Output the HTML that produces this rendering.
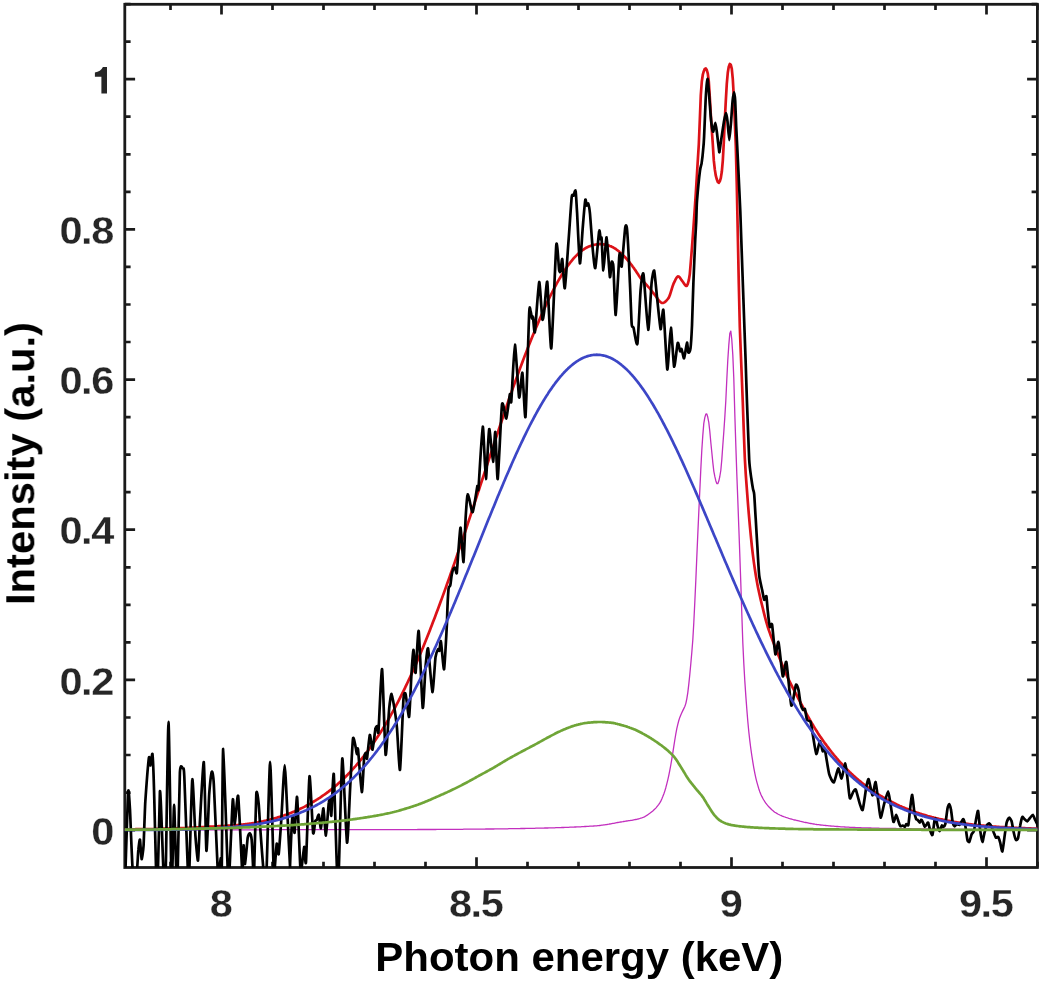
<!DOCTYPE html>
<html><head><meta charset="utf-8"><title>Spectrum</title>
<style>html,body{margin:0;padding:0;background:#fff;}body{width:1042px;height:982px;overflow:hidden;font-family:"Liberation Sans",sans-serif;}svg{display:block;}</style>
</head><body>
<svg width="1042" height="982" viewBox="0 0 1042 982">
<defs><filter id="b" x="0" y="0" width="1042" height="982" filterUnits="userSpaceOnUse" color-interpolation-filters="sRGB"><feGaussianBlur stdDeviation="0.5"/></filter><clipPath id="c"><rect x="124.8" y="4.3" width="912.6" height="863.2"/></clipPath></defs>
<g filter="url(#b)">
<rect width="1042" height="982" fill="#fff"/>
<path d="M170.5 867.5 V861.7 M170.5 4.3 V10.1 M221.5 867.5 V857.2 M221.5 4.3 V14.6 M272.5 867.5 V861.7 M272.5 4.3 V10.1 M323.5 867.5 V861.7 M323.5 4.3 V10.1 M374.5 867.5 V861.7 M374.5 4.3 V10.1 M425.5 867.5 V861.7 M425.5 4.3 V10.1 M476.5 867.5 V857.2 M476.5 4.3 V14.6 M527.5 867.5 V861.7 M527.5 4.3 V10.1 M578.5 867.5 V861.7 M578.5 4.3 V10.1 M629.5 867.5 V861.7 M629.5 4.3 V10.1 M680.5 867.5 V861.7 M680.5 4.3 V10.1 M731.5 867.5 V857.2 M731.5 4.3 V14.6 M782.5 867.5 V861.7 M782.5 4.3 V10.1 M833.5 867.5 V861.7 M833.5 4.3 V10.1 M884.5 867.5 V861.7 M884.5 4.3 V10.1 M935.5 867.5 V861.7 M935.5 4.3 V10.1 M986.5 867.5 V857.2 M986.5 4.3 V14.6 M1037.5 867.5 V861.7 M1037.5 4.3 V10.1 M124.8 830.1 H135.1 M1037.4 830.1 H1027.1 M124.8 792.6 H130.6 M1037.4 792.6 H1031.6 M124.8 755.0 H130.6 M1037.4 755.0 H1031.6 M124.8 717.5 H130.6 M1037.4 717.5 H1031.6 M124.8 679.9 H135.1 M1037.4 679.9 H1027.1 M124.8 642.4 H130.6 M1037.4 642.4 H1031.6 M124.8 604.8 H130.6 M1037.4 604.8 H1031.6 M124.8 567.3 H130.6 M1037.4 567.3 H1031.6 M124.8 529.7 H135.1 M1037.4 529.7 H1027.1 M124.8 492.2 H130.6 M1037.4 492.2 H1031.6 M124.8 454.7 H130.6 M1037.4 454.7 H1031.6 M124.8 417.1 H130.6 M1037.4 417.1 H1031.6 M124.8 379.6 H135.1 M1037.4 379.6 H1027.1 M124.8 342.0 H130.6 M1037.4 342.0 H1031.6 M124.8 304.5 H130.6 M1037.4 304.5 H1031.6 M124.8 266.9 H130.6 M1037.4 266.9 H1031.6 M124.8 229.4 H135.1 M1037.4 229.4 H1027.1 M124.8 191.8 H130.6 M1037.4 191.8 H1031.6 M124.8 154.3 H130.6 M1037.4 154.3 H1031.6 M124.8 116.7 H130.6 M1037.4 116.7 H1031.6 M124.8 79.2 H135.1 M1037.4 79.2 H1027.1 M124.8 41.7 H130.6 M1037.4 41.7 H1031.6 M124.8 4.1 H130.6 M1037.4 4.1 H1031.6" stroke="#1a1a1a" stroke-width="2.7" fill="none"/>
<rect x="124.8" y="4.3" width="912.6" height="863.2" fill="none" stroke="#1a1a1a" stroke-width="2.8"/>
<g clip-path="url(#c)" fill="none" stroke-linejoin="round" stroke-linecap="round">
<path d="M124.8 829.8 L125.8 829.8 L126.8 829.8 L127.8 829.8 L128.8 829.8 L129.8 829.8 L130.8 829.8 L131.8 829.8 L132.8 829.8 L133.8 829.8 L134.8 829.8 L135.8 829.8 L136.8 829.8 L137.8 829.8 L138.8 829.8 L139.8 829.8 L140.8 829.8 L141.8 829.8 L142.8 829.8 L143.8 829.8 L144.8 829.8 L145.8 829.8 L146.8 829.8 L147.8 829.8 L148.8 829.8 L149.8 829.8 L150.8 829.8 L151.8 829.8 L152.8 829.8 L153.8 829.8 L154.8 829.8 L155.8 829.8 L156.8 829.8 L157.8 829.8 L158.8 829.8 L159.8 829.8 L160.8 829.8 L161.8 829.8 L162.8 829.8 L163.8 829.8 L164.8 829.8 L165.8 829.8 L166.8 829.8 L167.8 829.8 L168.8 829.8 L169.8 829.8 L170.8 829.8 L171.8 829.8 L172.8 829.8 L173.8 829.8 L174.8 829.8 L175.8 829.8 L176.8 829.8 L177.8 829.8 L178.8 829.8 L179.8 829.8 L180.8 829.8 L181.8 829.8 L182.8 829.8 L183.8 829.8 L184.8 829.8 L185.8 829.8 L186.8 829.8 L187.8 829.8 L188.8 829.8 L189.8 829.8 L190.8 829.8 L191.8 829.8 L192.8 829.8 L193.8 829.8 L194.8 829.8 L195.8 829.8 L196.8 829.8 L197.8 829.8 L198.8 829.8 L199.8 829.8 L200.8 829.8 L201.8 829.8 L202.8 829.8 L203.8 829.8 L204.8 829.8 L205.8 829.8 L206.8 829.8 L207.8 829.8 L208.8 829.8 L209.8 829.8 L210.8 829.8 L211.8 829.8 L212.8 829.8 L213.8 829.8 L214.8 829.8 L215.8 829.8 L216.8 829.8 L217.8 829.8 L218.8 829.8 L219.8 829.8 L220.8 829.8 L221.8 829.8 L222.8 829.8 L223.8 829.8 L224.8 829.8 L225.8 829.8 L226.8 829.8 L227.8 829.8 L228.8 829.8 L229.8 829.8 L230.8 829.8 L231.8 829.8 L232.8 829.8 L233.8 829.8 L234.8 829.8 L235.8 829.8 L236.8 829.8 L237.8 829.8 L238.8 829.8 L239.8 829.8 L240.8 829.8 L241.8 829.8 L242.8 829.8 L243.8 829.8 L244.8 829.8 L245.8 829.8 L246.8 829.8 L247.8 829.8 L248.8 829.8 L249.8 829.8 L250.8 829.8 L251.8 829.8 L252.8 829.8 L253.8 829.8 L254.8 829.8 L255.8 829.8 L256.8 829.8 L257.8 829.8 L258.8 829.8 L259.8 829.8 L260.8 829.8 L261.8 829.8 L262.8 829.8 L263.8 829.8 L264.8 829.8 L265.8 829.8 L266.8 829.7 L267.8 829.7 L268.8 829.7 L269.8 829.7 L270.8 829.7 L271.8 829.7 L272.8 829.7 L273.8 829.7 L274.8 829.7 L275.8 829.7 L276.8 829.7 L277.8 829.7 L278.8 829.7 L279.8 829.7 L280.8 829.7 L281.8 829.7 L282.8 829.7 L283.8 829.7 L284.8 829.7 L285.8 829.7 L286.8 829.7 L287.8 829.7 L288.8 829.7 L289.8 829.7 L290.8 829.7 L291.8 829.7 L292.8 829.7 L293.8 829.7 L294.8 829.7 L295.8 829.7 L296.8 829.7 L297.8 829.7 L298.8 829.7 L299.8 829.7 L300.8 829.7 L301.8 829.7 L302.8 829.7 L303.8 829.7 L304.8 829.7 L305.8 829.7 L306.8 829.7 L307.8 829.7 L308.8 829.7 L309.8 829.7 L310.8 829.7 L311.8 829.7 L312.8 829.7 L313.8 829.7 L314.8 829.7 L315.8 829.7 L316.8 829.7 L317.8 829.7 L318.8 829.7 L319.8 829.7 L320.8 829.7 L321.8 829.7 L322.8 829.7 L323.8 829.7 L324.8 829.7 L325.8 829.7 L326.8 829.7 L327.8 829.7 L328.8 829.7 L329.8 829.7 L330.8 829.7 L331.8 829.7 L332.8 829.7 L333.8 829.7 L334.8 829.7 L335.8 829.7 L336.8 829.7 L337.8 829.7 L338.8 829.7 L339.8 829.7 L340.8 829.7 L341.8 829.7 L342.8 829.7 L343.8 829.7 L344.8 829.7 L345.8 829.7 L346.8 829.7 L347.8 829.7 L348.8 829.7 L349.8 829.7 L350.8 829.7 L351.8 829.7 L352.8 829.7 L353.8 829.7 L354.8 829.7 L355.8 829.7 L356.8 829.7 L357.8 829.7 L358.8 829.7 L359.8 829.7 L360.8 829.7 L361.8 829.7 L362.8 829.7 L363.8 829.7 L364.8 829.6 L365.8 829.6 L366.8 829.6 L367.8 829.6 L368.8 829.6 L369.8 829.6 L370.8 829.6 L371.8 829.6 L372.8 829.6 L373.8 829.6 L374.8 829.6 L375.8 829.6 L376.8 829.6 L377.8 829.6 L378.8 829.6 L379.8 829.6 L380.8 829.6 L381.8 829.6 L382.8 829.6 L383.8 829.6 L384.8 829.6 L385.8 829.6 L386.8 829.6 L387.8 829.6 L388.8 829.6 L389.8 829.6 L390.8 829.6 L391.8 829.6 L392.8 829.6 L393.8 829.6 L394.8 829.6 L395.8 829.6 L396.8 829.6 L397.8 829.6 L398.8 829.6 L399.8 829.6 L400.8 829.6 L401.8 829.6 L402.8 829.6 L403.8 829.6 L404.8 829.6 L405.8 829.6 L406.8 829.6 L407.8 829.6 L408.8 829.6 L409.8 829.6 L410.8 829.6 L411.8 829.6 L412.8 829.6 L413.8 829.6 L414.8 829.6 L415.8 829.6 L416.8 829.6 L417.8 829.5 L418.8 829.5 L419.8 829.5 L420.8 829.5 L421.8 829.5 L422.8 829.5 L423.8 829.5 L424.8 829.5 L425.8 829.5 L426.8 829.5 L427.8 829.5 L428.8 829.5 L429.8 829.5 L430.8 829.5 L431.8 829.5 L432.8 829.5 L433.8 829.5 L434.8 829.5 L435.8 829.5 L436.8 829.4 L437.8 829.4 L438.8 829.4 L439.8 829.4 L440.8 829.4 L441.8 829.4 L442.8 829.4 L443.8 829.4 L444.8 829.4 L445.8 829.4 L446.8 829.4 L447.8 829.4 L448.8 829.4 L449.8 829.4 L450.8 829.3 L451.8 829.3 L452.8 829.3 L453.8 829.3 L454.8 829.3 L455.8 829.3 L456.8 829.3 L457.8 829.3 L458.8 829.3 L459.8 829.3 L460.8 829.3 L461.8 829.3 L462.8 829.3 L463.8 829.2 L464.8 829.2 L465.8 829.2 L466.8 829.2 L467.8 829.2 L468.8 829.2 L469.8 829.2 L470.8 829.2 L471.8 829.2 L472.8 829.2 L473.8 829.2 L474.8 829.1 L475.8 829.1 L476.8 829.1 L477.8 829.1 L478.8 829.1 L479.8 829.1 L480.8 829.1 L481.8 829.1 L482.8 829.1 L483.8 829.1 L484.8 829.1 L485.8 829.0 L486.8 829.0 L487.8 829.0 L488.8 829.0 L489.8 829.0 L490.8 829.0 L491.8 829.0 L492.8 829.0 L493.8 829.0 L494.8 828.9 L495.8 828.9 L496.8 828.9 L497.8 828.9 L498.8 828.9 L499.8 828.9 L500.8 828.9 L501.8 828.8 L502.8 828.8 L503.8 828.8 L504.8 828.8 L505.8 828.8 L506.8 828.8 L507.8 828.8 L508.8 828.7 L509.8 828.7 L510.8 828.7 L511.8 828.7 L512.8 828.7 L513.8 828.7 L514.8 828.6 L515.8 828.6 L516.8 828.6 L517.8 828.6 L518.8 828.6 L519.8 828.6 L520.8 828.5 L521.8 828.5 L522.8 828.5 L523.8 828.5 L524.8 828.5 L525.8 828.4 L526.8 828.4 L527.8 828.4 L528.8 828.4 L529.8 828.4 L530.8 828.3 L531.8 828.3 L532.8 828.3 L533.8 828.3 L534.8 828.3 L535.8 828.2 L536.8 828.2 L537.8 828.2 L538.8 828.2 L539.8 828.1 L540.8 828.1 L541.8 828.1 L542.8 828.1 L543.8 828.1 L544.8 828.0 L545.8 828.0 L546.8 828.0 L547.8 828.0 L548.8 827.9 L549.8 827.9 L550.8 827.9 L551.8 827.8 L552.8 827.8 L553.8 827.8 L554.8 827.8 L555.8 827.7 L556.8 827.7 L557.8 827.7 L558.8 827.6 L559.8 827.6 L560.8 827.6 L561.8 827.5 L562.8 827.5 L563.8 827.5 L564.8 827.4 L565.8 827.4 L566.8 827.4 L567.8 827.3 L568.8 827.3 L569.8 827.2 L570.8 827.2 L571.8 827.2 L572.8 827.1 L573.8 827.1 L574.8 827.0 L575.8 827.0 L576.8 826.9 L577.8 826.9 L578.8 826.9 L579.8 826.8 L580.8 826.8 L581.8 826.7 L582.8 826.6 L583.8 826.6 L584.8 826.5 L585.8 826.5 L586.8 826.4 L587.8 826.4 L588.8 826.3 L589.8 826.2 L590.8 826.2 L591.8 826.1 L592.8 826.1 L593.8 826.0 L594.8 825.9 L595.8 825.9 L596.8 825.8 L597.8 825.7 L598.8 825.6 L599.8 825.5 L600.8 825.4 L601.8 825.2 L602.8 825.1 L603.8 824.9 L604.8 824.8 L605.8 824.6 L606.8 824.5 L607.8 824.3 L608.8 824.2 L609.8 824.0 L610.8 823.8 L611.8 823.6 L612.8 823.4 L613.8 823.3 L614.8 823.1 L615.8 822.9 L616.8 822.7 L617.8 822.5 L618.8 822.4 L619.8 822.2 L620.8 822.0 L621.8 821.8 L622.8 821.7 L623.8 821.5 L624.8 821.4 L625.8 821.2 L626.8 821.0 L627.8 820.9 L628.8 820.7 L629.8 820.6 L630.8 820.4 L631.8 820.3 L632.8 820.1 L633.8 819.9 L634.8 819.7 L635.8 819.5 L636.8 819.3 L637.8 819.0 L638.8 818.8 L639.8 818.5 L640.8 818.2 L641.8 817.9 L642.8 817.5 L643.8 817.1 L644.8 816.6 L645.8 816.0 L646.8 815.4 L647.8 814.7 L648.8 814.0 L649.8 813.3 L650.8 812.5 L651.8 811.7 L652.8 810.9 L653.8 810.0 L654.8 809.1 L655.8 808.1 L656.8 806.9 L657.8 805.7 L658.8 804.3 L659.8 802.8 L660.8 801.1 L661.8 799.0 L662.8 796.6 L663.8 794.0 L664.8 791.1 L665.8 787.7 L666.8 783.9 L667.8 779.8 L668.8 775.3 L669.8 770.4 L670.8 765.0 L671.8 759.1 L672.8 752.8 L673.8 746.3 L674.8 740.0 L675.8 734.0 L676.8 728.6 L677.8 724.3 L678.8 720.5 L679.8 717.4 L680.8 714.9 L681.8 712.7 L682.8 710.6 L683.8 708.6 L684.8 706.5 L685.8 703.6 L686.8 698.8 L687.8 692.6 L688.8 684.2 L689.8 674.5 L690.8 663.8 L691.8 652.5 L692.8 640.0 L693.8 622.8 L694.8 602.3 L695.8 580.7 L696.8 557.1 L697.8 534.1 L698.8 512.0 L699.8 490.8 L700.8 469.4 L701.8 450.2 L702.8 435.4 L703.8 423.4 L704.8 417.6 L705.8 414.2 L706.8 413.9 L707.8 417.3 L708.8 422.5 L709.8 431.2 L710.8 442.3 L711.8 452.3 L712.8 462.4 L713.8 471.1 L714.8 476.4 L715.8 480.7 L716.8 483.5 L717.8 483.7 L718.8 481.1 L719.8 476.5 L720.8 470.5 L721.8 459.6 L722.8 445.5 L723.8 432.0 L724.8 417.4 L725.8 401.0 L726.8 379.5 L727.8 360.0 L728.8 345.1 L729.8 333.5 L730.8 331.1 L731.8 339.7 L732.8 354.9 L733.8 378.5 L734.8 413.8 L735.8 444.7 L736.8 474.0 L737.8 500.0 L738.8 527.0 L739.8 554.7 L740.8 583.0 L741.8 613.6 L742.8 642.4 L743.8 663.4 L744.8 680.7 L745.8 695.6 L746.8 709.0 L747.8 721.2 L748.8 731.7 L749.8 740.6 L750.8 748.5 L751.8 755.5 L752.8 761.9 L753.8 767.8 L754.8 773.1 L755.8 777.8 L756.8 781.8 L757.8 785.4 L758.8 788.8 L759.8 791.7 L760.8 794.2 L761.8 796.4 L762.8 798.3 L763.8 800.0 L764.8 801.6 L765.8 803.1 L766.8 804.4 L767.8 805.6 L768.8 806.8 L769.8 807.8 L770.8 808.8 L771.8 809.8 L772.8 810.6 L773.8 811.4 L774.8 812.2 L775.8 812.8 L776.8 813.4 L777.8 814.0 L778.8 814.5 L779.8 815.0 L780.8 815.4 L781.8 815.9 L782.8 816.3 L783.8 816.7 L784.8 817.0 L785.8 817.4 L786.8 817.7 L787.8 818.0 L788.8 818.4 L789.8 818.7 L790.8 819.0 L791.8 819.2 L792.8 819.5 L793.8 819.8 L794.8 820.0 L795.8 820.2 L796.8 820.5 L797.8 820.7 L798.8 820.9 L799.8 821.2 L800.8 821.4 L801.8 821.6 L802.8 821.8 L803.8 822.1 L804.8 822.3 L805.8 822.5 L806.8 822.7 L807.8 822.9 L808.8 823.1 L809.8 823.3 L810.8 823.5 L811.8 823.7 L812.8 823.9 L813.8 824.0 L814.8 824.2 L815.8 824.3 L816.8 824.5 L817.8 824.6 L818.8 824.7 L819.8 824.9 L820.8 825.0 L821.8 825.1 L822.8 825.2 L823.8 825.3 L824.8 825.4 L825.8 825.5 L826.8 825.6 L827.8 825.7 L828.8 825.8 L829.8 825.9 L830.8 826.0 L831.8 826.1 L832.8 826.2 L833.8 826.2 L834.8 826.3 L835.8 826.4 L836.8 826.5 L837.8 826.5 L838.8 826.6 L839.8 826.7 L840.8 826.8 L841.8 826.8 L842.8 826.9 L843.8 826.9 L844.8 827.0 L845.8 827.1 L846.8 827.1 L847.8 827.2 L848.8 827.2 L849.8 827.3 L850.8 827.3 L851.8 827.4 L852.8 827.4 L853.8 827.5 L854.8 827.5 L855.8 827.6 L856.8 827.6 L857.8 827.6 L858.8 827.7 L859.8 827.7 L860.8 827.7 L861.8 827.8 L862.8 827.8 L863.8 827.8 L864.8 827.9 L865.8 827.9 L866.8 827.9 L867.8 827.9 L868.8 828.0 L869.8 828.0 L870.8 828.0 L871.8 828.1 L872.8 828.1 L873.8 828.1 L874.8 828.1 L875.8 828.2 L876.8 828.2 L877.8 828.2 L878.8 828.2 L879.8 828.3 L880.8 828.3 L881.8 828.3 L882.8 828.3 L883.8 828.3 L884.8 828.4 L885.8 828.4 L886.8 828.4 L887.8 828.4 L888.8 828.4 L889.8 828.4 L890.8 828.5 L891.8 828.5 L892.8 828.5 L893.8 828.5 L894.8 828.5 L895.8 828.5 L896.8 828.6 L897.8 828.6 L898.8 828.6 L899.8 828.6 L900.8 828.6 L901.8 828.6 L902.8 828.6 L903.8 828.7 L904.8 828.7 L905.8 828.7 L906.8 828.7 L907.8 828.7 L908.8 828.7 L909.8 828.7 L910.8 828.7 L911.8 828.8 L912.8 828.8 L913.8 828.8 L914.8 828.8 L915.8 828.8 L916.8 828.8 L917.8 828.8 L918.8 828.8 L919.8 828.9 L920.8 828.9 L921.8 828.9 L922.8 828.9 L923.8 828.9 L924.8 828.9 L925.8 828.9 L926.8 828.9 L927.8 828.9 L928.8 829.0 L929.8 829.0 L930.8 829.0 L931.8 829.0 L932.8 829.0 L933.8 829.0 L934.8 829.0 L935.8 829.0 L936.8 829.1 L937.8 829.1 L938.8 829.1 L939.8 829.1 L940.8 829.1 L941.8 829.1 L942.8 829.1 L943.8 829.1 L944.8 829.1 L945.8 829.2 L946.8 829.2 L947.8 829.2 L948.8 829.2 L949.8 829.2 L950.8 829.2 L951.8 829.2 L952.8 829.2 L953.8 829.2 L954.8 829.2 L955.8 829.3 L956.8 829.3 L957.8 829.3 L958.8 829.3 L959.8 829.3 L960.8 829.3 L961.8 829.3 L962.8 829.3 L963.8 829.3 L964.8 829.3 L965.8 829.3 L966.8 829.4 L967.8 829.4 L968.8 829.4 L969.8 829.4 L970.8 829.4 L971.8 829.4 L972.8 829.4 L973.8 829.4 L974.8 829.4 L975.8 829.4 L976.8 829.4 L977.8 829.4 L978.8 829.5 L979.8 829.5 L980.8 829.5 L981.8 829.5 L982.8 829.5 L983.8 829.5 L984.8 829.5 L985.8 829.5 L986.8 829.5 L987.8 829.5 L988.8 829.5 L989.8 829.5 L990.8 829.5 L991.8 829.5 L992.8 829.6 L993.8 829.6 L994.8 829.6 L995.8 829.6 L996.8 829.6 L997.8 829.6 L998.8 829.6 L999.8 829.6 L1000.8 829.6 L1001.8 829.6 L1002.8 829.6 L1003.8 829.6 L1004.8 829.6 L1005.8 829.6 L1006.8 829.6 L1007.8 829.6 L1008.8 829.6 L1009.8 829.6 L1010.8 829.6 L1011.8 829.6 L1012.8 829.7 L1013.8 829.7 L1014.8 829.7 L1015.8 829.7 L1016.8 829.7 L1017.8 829.7 L1018.8 829.7 L1019.8 829.7 L1020.8 829.7 L1021.8 829.7 L1022.8 829.7 L1023.8 829.7 L1024.8 829.7 L1025.8 829.7 L1026.8 829.7 L1027.8 829.7 L1028.8 829.7 L1029.8 829.7 L1030.8 829.7 L1031.8 829.7 L1032.8 829.7 L1033.8 829.7 L1034.8 829.7 L1035.8 829.7 L1036.8 829.7" stroke="#c22fbe" stroke-width="1.3"/>
<path d="M124.8 829.3 L125.8 829.3 L126.8 829.3 L127.8 829.3 L128.8 829.3 L129.8 829.3 L130.8 829.3 L131.8 829.3 L132.8 829.3 L133.8 829.3 L134.8 829.3 L135.8 829.2 L136.8 829.2 L137.8 829.2 L138.8 829.2 L139.8 829.2 L140.8 829.2 L141.8 829.2 L142.8 829.2 L143.8 829.1 L144.8 829.1 L145.8 829.1 L146.8 829.1 L147.8 829.1 L148.8 829.1 L149.8 829.0 L150.8 829.0 L151.8 829.0 L152.8 829.0 L153.8 829.0 L154.8 828.9 L155.8 828.9 L156.8 828.9 L157.8 828.9 L158.8 828.9 L159.8 828.8 L160.8 828.8 L161.8 828.8 L162.8 828.8 L163.8 828.7 L164.8 828.7 L165.8 828.7 L166.8 828.6 L167.8 828.6 L168.8 828.6 L169.8 828.5 L170.8 828.5 L171.8 828.5 L172.8 828.5 L173.8 828.4 L174.8 828.4 L175.8 828.3 L176.8 828.3 L177.8 828.3 L178.8 828.2 L179.8 828.2 L180.8 828.2 L181.8 828.1 L182.8 828.1 L183.8 828.0 L184.8 828.0 L185.8 827.9 L186.8 827.9 L187.8 827.9 L188.8 827.8 L189.8 827.8 L190.8 827.7 L191.8 827.7 L192.8 827.6 L193.8 827.6 L194.8 827.5 L195.8 827.5 L196.8 827.4 L197.8 827.3 L198.8 827.3 L199.8 827.2 L200.8 827.2 L201.8 827.1 L202.8 827.1 L203.8 827.0 L204.8 826.9 L205.8 826.9 L206.8 826.8 L207.8 826.8 L208.8 826.7 L209.8 826.7 L210.8 826.6 L211.8 826.6 L212.8 826.5 L213.8 826.5 L214.8 826.4 L215.8 826.4 L216.8 826.3 L217.8 826.3 L218.8 826.2 L219.8 826.2 L220.8 826.1 L221.8 826.1 L222.8 826.0 L223.8 826.0 L224.8 825.9 L225.8 825.9 L226.8 825.8 L227.8 825.7 L228.8 825.7 L229.8 825.6 L230.8 825.5 L231.8 825.5 L232.8 825.4 L233.8 825.3 L234.8 825.2 L235.8 825.1 L236.8 825.1 L237.8 825.0 L238.8 824.9 L239.8 824.8 L240.8 824.7 L241.8 824.6 L242.8 824.5 L243.8 824.4 L244.8 824.3 L245.8 824.1 L246.8 824.0 L247.8 823.9 L248.8 823.8 L249.8 823.6 L250.8 823.5 L251.8 823.3 L252.8 823.2 L253.8 823.0 L254.8 822.9 L255.8 822.7 L256.8 822.5 L257.8 822.3 L258.8 822.2 L259.8 822.0 L260.8 821.8 L261.8 821.6 L262.8 821.4 L263.8 821.1 L264.8 820.9 L265.8 820.7 L266.8 820.4 L267.8 820.2 L268.8 820.0 L269.8 819.7 L270.8 819.4 L271.8 819.2 L272.8 818.9 L273.8 818.6 L274.8 818.3 L275.8 818.0 L276.8 817.7 L277.8 817.4 L278.8 817.1 L279.8 816.8 L280.8 816.5 L281.8 816.2 L282.8 815.8 L283.8 815.5 L284.8 815.1 L285.8 814.8 L286.8 814.4 L287.8 814.1 L288.8 813.7 L289.8 813.3 L290.8 812.9 L291.8 812.5 L292.8 812.1 L293.8 811.7 L294.8 811.3 L295.8 810.8 L296.8 810.4 L297.8 809.9 L298.8 809.5 L299.8 809.0 L300.8 808.5 L301.8 808.1 L302.8 807.6 L303.8 807.1 L304.8 806.6 L305.8 806.0 L306.8 805.5 L307.8 805.0 L308.8 804.4 L309.8 803.9 L310.8 803.3 L311.8 802.7 L312.8 802.1 L313.8 801.5 L314.8 800.9 L315.8 800.3 L316.8 799.7 L317.8 799.1 L318.8 798.4 L319.8 797.8 L320.8 797.1 L321.8 796.4 L322.8 795.7 L323.8 795.0 L324.8 794.3 L325.8 793.6 L326.8 792.9 L327.8 792.1 L328.8 791.4 L329.8 790.6 L330.8 789.8 L331.8 789.0 L332.8 788.2 L333.8 787.4 L334.8 786.6 L335.8 785.7 L336.8 784.9 L337.8 784.0 L338.8 783.1 L339.8 782.2 L340.8 781.3 L341.8 780.4 L342.8 779.4 L343.8 778.5 L344.8 777.5 L345.8 776.5 L346.8 775.5 L347.8 774.5 L348.8 773.4 L349.8 772.4 L350.8 771.3 L351.8 770.3 L352.8 769.2 L353.8 768.0 L354.8 766.9 L355.8 765.8 L356.8 764.6 L357.8 763.4 L358.8 762.3 L359.8 761.1 L360.8 759.8 L361.8 758.6 L362.8 757.3 L363.8 756.1 L364.8 754.8 L365.8 753.5 L366.8 752.2 L367.8 750.9 L368.8 749.5 L369.8 748.1 L370.8 746.8 L371.8 745.4 L372.8 743.9 L373.8 742.5 L374.8 741.1 L375.8 739.6 L376.8 738.1 L377.8 736.6 L378.8 735.1 L379.8 733.5 L380.8 732.0 L381.8 730.4 L382.8 728.8 L383.8 727.1 L384.8 725.5 L385.8 723.8 L386.8 722.2 L387.8 720.5 L388.8 718.7 L389.8 717.0 L390.8 715.2 L391.8 713.4 L392.8 711.6 L393.8 709.8 L394.8 708.0 L395.8 706.1 L396.8 704.2 L397.8 702.3 L398.8 700.4 L399.8 698.4 L400.8 696.4 L401.8 694.4 L402.8 692.4 L403.8 690.4 L404.8 688.3 L405.8 686.2 L406.8 684.1 L407.8 682.0 L408.8 679.9 L409.8 677.7 L410.8 675.5 L411.8 673.3 L412.8 671.1 L413.8 668.9 L414.8 666.7 L415.8 664.4 L416.8 662.1 L417.8 659.8 L418.8 657.5 L419.8 655.1 L420.8 652.7 L421.8 650.3 L422.8 647.9 L423.8 645.5 L424.8 643.0 L425.8 640.6 L426.8 638.1 L427.8 635.5 L428.8 633.0 L429.8 630.4 L430.8 627.8 L431.8 625.2 L432.8 622.6 L433.8 620.0 L434.8 617.4 L435.8 614.7 L436.8 612.0 L437.8 609.4 L438.8 606.7 L439.8 604.0 L440.8 601.3 L441.8 598.6 L442.8 595.9 L443.8 593.1 L444.8 590.4 L445.8 587.6 L446.8 584.8 L447.8 582.0 L448.8 579.2 L449.8 576.4 L450.8 573.5 L451.8 570.7 L452.8 567.8 L453.8 565.0 L454.8 562.1 L455.8 559.2 L456.8 556.3 L457.8 553.3 L458.8 550.4 L459.8 547.5 L460.8 544.5 L461.8 541.6 L462.8 538.6 L463.8 535.6 L464.8 532.7 L465.8 529.7 L466.8 526.7 L467.8 523.6 L468.8 520.6 L469.8 517.6 L470.8 514.6 L471.8 511.5 L472.8 508.5 L473.8 505.4 L474.8 502.4 L475.8 499.3 L476.8 496.3 L477.8 493.2 L478.8 490.2 L479.8 487.1 L480.8 484.1 L481.8 481.0 L482.8 478.0 L483.8 475.0 L484.8 471.9 L485.8 468.9 L486.8 465.9 L487.8 462.9 L488.8 459.8 L489.8 456.8 L490.8 453.8 L491.8 450.7 L492.8 447.7 L493.8 444.7 L494.8 441.7 L495.8 438.6 L496.8 435.6 L497.8 432.6 L498.8 429.5 L499.8 426.5 L500.8 423.5 L501.8 420.5 L502.8 417.5 L503.8 414.5 L504.8 411.5 L505.8 408.6 L506.8 405.6 L507.8 402.7 L508.8 399.8 L509.8 397.0 L510.8 394.1 L511.8 391.2 L512.8 388.4 L513.8 385.6 L514.8 382.8 L515.8 380.0 L516.8 377.3 L517.8 374.5 L518.8 371.8 L519.8 369.1 L520.8 366.4 L521.8 363.7 L522.8 361.1 L523.8 358.4 L524.8 355.8 L525.8 353.2 L526.8 350.7 L527.8 348.1 L528.8 345.6 L529.8 343.0 L530.8 340.5 L531.8 338.1 L532.8 335.6 L533.8 333.2 L534.8 330.7 L535.8 328.3 L536.8 325.9 L537.8 323.6 L538.8 321.2 L539.8 318.9 L540.8 316.6 L541.8 314.3 L542.8 312.0 L543.8 309.8 L544.8 307.6 L545.8 305.4 L546.8 303.3 L547.8 301.1 L548.8 299.1 L549.8 297.0 L550.8 295.0 L551.8 293.0 L552.8 291.0 L553.8 289.1 L554.8 287.2 L555.8 285.3 L556.8 283.4 L557.8 281.6 L558.8 279.9 L559.8 278.2 L560.8 276.5 L561.8 274.8 L562.8 273.3 L563.8 271.7 L564.8 270.2 L565.8 268.7 L566.8 267.2 L567.8 265.8 L568.8 264.4 L569.8 263.1 L570.8 261.8 L571.8 260.6 L572.8 259.4 L573.8 258.2 L574.8 257.1 L575.8 256.1 L576.8 255.1 L577.8 254.1 L578.8 253.2 L579.8 252.4 L580.8 251.5 L581.8 250.7 L582.8 250.0 L583.8 249.3 L584.8 248.6 L585.8 248.0 L586.8 247.5 L587.8 247.0 L588.8 246.6 L589.8 246.2 L590.8 245.8 L591.8 245.5 L592.8 245.2 L593.8 244.9 L594.8 244.7 L595.8 244.5 L596.8 244.4 L597.8 244.3 L598.8 244.2 L599.8 244.2 L600.8 244.2 L601.8 244.2 L602.8 244.3 L603.8 244.4 L604.8 244.6 L605.8 244.8 L606.8 245.1 L607.8 245.3 L608.8 245.6 L609.8 246.0 L610.8 246.3 L611.8 246.8 L612.8 247.2 L613.8 247.8 L614.8 248.4 L615.8 249.0 L616.8 249.8 L617.8 250.5 L618.8 251.3 L619.8 252.2 L620.8 253.0 L621.8 253.9 L622.8 254.9 L623.8 255.9 L624.8 256.9 L625.8 258.0 L626.8 259.1 L627.8 260.3 L628.8 261.5 L629.8 262.7 L630.8 264.0 L631.8 265.3 L632.8 266.7 L633.8 268.0 L634.8 269.5 L635.8 270.9 L636.8 272.4 L637.8 273.9 L638.8 275.5 L639.8 277.0 L640.8 278.4 L641.8 279.6 L642.8 280.8 L643.8 281.9 L644.8 283.0 L645.8 284.1 L646.8 285.2 L647.8 286.3 L648.8 287.4 L649.8 288.4 L650.8 289.7 L651.8 291.1 L652.8 292.4 L653.8 293.6 L654.8 294.9 L655.8 296.2 L656.8 297.6 L657.8 299.0 L658.8 300.3 L659.8 301.4 L660.8 302.3 L661.8 302.9 L662.8 303.0 L663.8 302.7 L664.8 302.1 L665.8 301.3 L666.8 300.2 L667.8 299.0 L668.8 297.6 L669.8 295.3 L670.8 292.2 L671.8 288.9 L672.8 285.7 L673.8 283.1 L674.8 281.1 L675.8 279.0 L676.8 277.4 L677.8 276.4 L678.8 276.5 L679.8 277.4 L680.8 278.9 L681.8 280.4 L682.8 281.7 L683.8 283.2 L684.8 284.7 L685.8 285.8 L686.8 285.8 L687.8 283.8 L688.8 280.2 L689.8 274.1 L690.8 262.0 L691.8 249.6 L692.8 236.3 L693.8 222.7 L694.8 208.4 L695.8 193.3 L696.8 177.0 L697.8 160.4 L698.8 144.5 L699.8 120.3 L700.8 95.0 L701.8 81.5 L702.8 74.7 L703.8 71.2 L704.8 68.9 L705.8 68.4 L706.8 70.0 L707.8 73.6 L708.8 81.5 L709.8 97.3 L710.8 114.7 L711.8 129.9 L712.8 144.2 L713.8 160.4 L714.8 169.4 L715.8 175.7 L716.8 179.3 L717.8 181.9 L718.8 182.8 L719.8 181.3 L720.8 178.1 L721.8 171.8 L722.8 160.6 L723.8 142.4 L724.8 120.3 L725.8 100.9 L726.8 83.7 L727.8 72.5 L728.8 66.6 L729.8 63.9 L730.8 64.8 L731.8 68.9 L732.8 79.2 L733.8 96.6 L734.8 121.2 L735.8 146.0 L736.8 185.7 L737.8 234.6 L738.8 283.9 L739.8 326.7 L740.8 352.8 L741.8 377.4 L742.8 402.8 L743.8 431.6 L744.8 457.8 L745.8 474.9 L746.8 488.4 L747.8 501.6 L748.8 513.9 L749.8 525.1 L750.8 535.7 L751.8 545.5 L752.8 554.2 L753.8 561.9 L754.8 568.8 L755.8 575.2 L756.8 581.1 L757.8 586.4 L758.8 591.2 L759.8 595.8 L760.8 600.1 L761.8 604.2 L762.8 608.3 L763.8 612.4 L764.8 616.3 L765.8 620.1 L766.8 623.7 L767.8 627.0 L768.8 630.0 L769.8 632.9 L770.8 635.7 L771.8 638.4 L772.8 641.0 L773.8 643.5 L774.8 646.0 L775.8 648.6 L776.8 651.2 L777.8 653.7 L778.8 656.3 L779.8 658.8 L780.8 661.3 L781.8 663.8 L782.8 666.2 L783.8 668.6 L784.8 671.0 L785.8 673.4 L786.8 675.6 L787.8 677.8 L788.8 679.9 L789.8 681.9 L790.8 683.9 L791.8 685.9 L792.8 687.8 L793.8 689.7 L794.8 691.5 L795.8 693.5 L796.8 695.4 L797.8 697.4 L798.8 699.3 L799.8 701.2 L800.8 703.1 L801.8 705.0 L802.8 706.9 L803.8 708.8 L804.8 710.7 L805.8 712.5 L806.8 714.3 L807.8 716.1 L808.8 717.9 L809.8 719.7 L810.8 721.4 L811.8 723.1 L812.8 724.8 L813.8 726.5 L814.8 728.1 L815.8 729.7 L816.8 731.3 L817.8 732.9 L818.8 734.4 L819.8 735.9 L820.8 737.4 L821.8 738.8 L822.8 740.2 L823.8 741.7 L824.8 743.1 L825.8 744.4 L826.8 745.8 L827.8 747.1 L828.8 748.4 L829.8 749.7 L830.8 751.0 L831.8 752.3 L832.8 753.5 L833.8 754.8 L834.8 756.0 L835.8 757.2 L836.8 758.4 L837.8 759.5 L838.8 760.7 L839.8 761.8 L840.8 762.9 L841.8 764.0 L842.8 765.1 L843.8 766.1 L844.8 767.2 L845.8 768.2 L846.8 769.2 L847.8 770.2 L848.8 771.2 L849.8 772.2 L850.8 773.1 L851.8 774.1 L852.8 775.0 L853.8 775.9 L854.8 776.8 L855.8 777.7 L856.8 778.6 L857.8 779.4 L858.8 780.3 L859.8 781.1 L860.8 781.9 L861.8 782.7 L862.8 783.5 L863.8 784.3 L864.8 785.1 L865.8 785.8 L866.8 786.6 L867.8 787.3 L868.8 788.0 L869.8 788.8 L870.8 789.5 L871.8 790.2 L872.8 790.8 L873.8 791.5 L874.8 792.2 L875.8 792.8 L876.8 793.5 L877.8 794.1 L878.8 794.7 L879.8 795.3 L880.8 796.0 L881.8 796.5 L882.8 797.1 L883.8 797.7 L884.8 798.3 L885.8 798.8 L886.8 799.4 L887.8 799.9 L888.8 800.5 L889.8 801.0 L890.8 801.5 L891.8 802.0 L892.8 802.5 L893.8 803.0 L894.8 803.5 L895.8 804.0 L896.8 804.5 L897.8 804.9 L898.8 805.4 L899.8 805.9 L900.8 806.3 L901.8 806.8 L902.8 807.2 L903.8 807.6 L904.8 808.0 L905.8 808.4 L906.8 808.8 L907.8 809.2 L908.8 809.6 L909.8 810.0 L910.8 810.4 L911.8 810.8 L912.8 811.1 L913.8 811.5 L914.8 811.9 L915.8 812.2 L916.8 812.6 L917.8 812.9 L918.8 813.2 L919.8 813.6 L920.8 813.9 L921.8 814.2 L922.8 814.5 L923.8 814.8 L924.8 815.1 L925.8 815.4 L926.8 815.7 L927.8 816.0 L928.8 816.2 L929.8 816.5 L930.8 816.8 L931.8 817.1 L932.8 817.3 L933.8 817.6 L934.8 817.8 L935.8 818.1 L936.8 818.3 L937.8 818.5 L938.8 818.8 L939.8 819.0 L940.8 819.2 L941.8 819.4 L942.8 819.7 L943.8 819.9 L944.8 820.1 L945.8 820.3 L946.8 820.5 L947.8 820.7 L948.8 820.9 L949.8 821.1 L950.8 821.2 L951.8 821.4 L952.8 821.6 L953.8 821.8 L954.8 822.0 L955.8 822.1 L956.8 822.3 L957.8 822.5 L958.8 822.6 L959.8 822.8 L960.8 822.9 L961.8 823.1 L962.8 823.2 L963.8 823.4 L964.8 823.5 L965.8 823.6 L966.8 823.8 L967.8 823.9 L968.8 824.0 L969.8 824.2 L970.8 824.3 L971.8 824.4 L972.8 824.5 L973.8 824.7 L974.8 824.8 L975.8 824.9 L976.8 825.0 L977.8 825.1 L978.8 825.2 L979.8 825.3 L980.8 825.4 L981.8 825.5 L982.8 825.6 L983.8 825.7 L984.8 825.8 L985.8 825.9 L986.8 826.0 L987.8 826.1 L988.8 826.2 L989.8 826.2 L990.8 826.3 L991.8 826.4 L992.8 826.5 L993.8 826.6 L994.8 826.6 L995.8 826.7 L996.8 826.8 L997.8 826.8 L998.8 826.9 L999.8 827.0 L1000.8 827.0 L1001.8 827.1 L1002.8 827.2 L1003.8 827.2 L1004.8 827.3 L1005.8 827.4 L1006.8 827.4 L1007.8 827.5 L1008.8 827.5 L1009.8 827.6 L1010.8 827.6 L1011.8 827.7 L1012.8 827.7 L1013.8 827.8 L1014.8 827.8 L1015.8 827.9 L1016.8 827.9 L1017.8 828.0 L1018.8 828.0 L1019.8 828.0 L1020.8 828.1 L1021.8 828.1 L1022.8 828.2 L1023.8 828.2 L1024.8 828.2 L1025.8 828.3 L1026.8 828.3 L1027.8 828.3 L1028.8 828.4 L1029.8 828.4 L1030.8 828.4 L1031.8 828.5 L1032.8 828.5 L1033.8 828.5 L1034.8 828.5 L1035.8 828.6 L1036.8 828.6" stroke="#dc1218" stroke-width="2.7"/>
<path d="M125.4 871.6 C125.7 863.6 127.7 798.0 128.2 791.8 C128.6 785.6 129.5 801.8 130.0 809.7 C130.4 817.7 132.1 865.4 132.8 871.6 C133.5 877.8 136.2 873.8 136.8 871.6 C137.3 869.4 138.0 852.9 138.4 849.7 C138.7 846.5 139.6 838.7 140.0 839.7 C140.3 840.6 141.2 858.7 141.6 859.2 C141.9 859.8 143.2 851.0 143.6 845.3 C143.9 839.5 144.8 810.5 145.3 801.8 C145.9 793.0 148.4 761.5 148.9 757.8 C149.5 754.2 150.2 765.8 150.5 765.4 C150.9 765.1 152.2 750.8 152.5 754.3 C152.9 757.7 154.0 788.0 154.3 799.8 C154.7 811.5 155.8 864.4 156.1 871.6 C156.5 878.8 157.5 879.6 157.9 871.6 C158.3 863.6 159.6 797.0 159.9 791.8 C160.3 786.6 161.2 811.7 161.5 819.7 C161.9 827.7 163.1 866.4 163.5 871.6 C163.9 876.8 165.2 886.6 165.7 871.6 C166.2 856.6 167.9 721.9 168.5 721.9 C169.1 721.9 170.9 856.6 171.3 871.6 C171.7 886.6 172.0 878.3 172.3 871.6 C172.6 864.9 173.7 804.8 174.1 804.8 C174.5 804.8 175.9 864.9 176.3 871.6 C176.6 878.3 177.3 881.6 177.7 871.6 C178.0 861.7 179.4 782.5 179.9 772.2 C180.4 761.9 182.4 768.0 182.9 768.4 C183.3 768.8 183.8 765.9 184.3 776.2 C184.8 786.5 187.4 862.1 187.9 871.6 C188.4 881.2 188.8 880.8 189.3 871.6 C189.7 862.4 191.6 783.0 192.3 779.4 C192.9 775.8 194.9 827.6 195.4 835.7 C196.0 843.8 197.6 861.8 198.0 860.6 C198.5 859.4 199.3 833.6 199.8 823.7 C200.4 813.9 203.2 759.5 203.8 762.2 C204.5 764.9 205.9 847.5 206.4 850.7 C207.0 853.9 208.7 802.1 209.2 794.2 C209.8 786.3 211.4 772.9 211.8 771.8 C212.3 770.8 213.2 773.8 213.8 783.8 C214.4 793.8 217.3 862.8 217.8 871.6 C218.3 880.4 218.7 873.0 219.0 871.6 C219.3 870.3 220.5 858.8 220.8 858.2 C221.1 857.6 221.6 876.6 221.8 865.6 C222.0 854.7 222.6 748.3 223.2 748.9 C223.8 749.5 227.2 859.3 227.8 871.6 C228.4 883.9 228.9 878.8 229.4 871.6 C229.9 864.4 232.2 804.5 232.8 799.8 C233.3 795.0 234.2 824.5 234.8 824.1 C235.3 823.8 237.4 791.4 238.2 796.2 C238.9 800.9 241.7 864.1 242.2 871.6 C242.6 879.2 242.4 874.3 242.6 871.6 C242.7 869.0 243.3 846.0 243.6 845.3 C243.8 844.5 244.5 864.8 245.0 864.0 C245.4 863.3 247.3 840.8 247.7 837.7 C248.2 834.6 249.3 833.1 249.7 833.3 C250.1 833.5 251.4 836.2 251.7 840.1 C252.1 843.9 253.1 868.5 253.3 871.6 C253.6 874.8 253.8 879.4 254.1 871.6 C254.4 863.8 255.9 800.6 256.3 793.8 C256.8 787.0 258.3 800.0 258.7 803.8 C259.1 807.5 260.0 824.9 260.5 831.7 C261.0 838.5 263.1 867.6 263.7 871.6 C264.3 875.6 265.9 882.6 266.5 871.6 C267.1 860.6 269.4 761.8 270.1 761.8 C270.8 761.8 273.3 860.6 273.7 871.6 C274.1 882.6 274.2 874.4 274.5 871.6 C274.8 868.8 276.3 845.4 276.7 843.7 C277.1 841.9 278.2 856.4 278.7 854.1 C279.1 851.7 280.7 828.6 281.3 819.7 C281.9 810.8 284.0 765.2 284.7 765.2 C285.3 765.2 287.1 809.1 287.7 819.7 C288.2 830.4 290.0 866.9 290.3 871.6 C290.5 876.3 289.8 872.3 290.0 866.9 C290.2 861.4 292.0 820.4 292.4 817.0 C292.9 813.5 294.1 834.6 294.6 832.7 C295.0 830.7 296.6 793.6 297.1 797.0 C297.7 800.4 299.8 859.9 300.3 866.9 C300.7 873.9 301.3 868.9 301.7 866.9 C302.1 864.9 303.8 847.4 304.2 846.9 C304.7 846.4 305.4 868.9 306.0 861.9 C306.5 854.8 308.8 779.3 309.5 776.3 C310.2 773.4 312.5 828.2 313.1 832.7 C313.7 837.1 314.9 822.5 315.2 821.2 C315.6 820.0 316.3 820.7 316.7 820.1 C317.0 819.5 318.4 814.0 318.8 814.8 C319.2 815.7 320.5 829.0 320.9 828.4 C321.4 827.7 322.9 807.7 323.4 808.4 C323.9 809.1 325.4 836.1 325.9 835.5 C326.5 834.9 328.3 806.3 328.8 802.7 C329.2 799.1 330.2 798.6 330.5 799.9 C330.7 801.1 331.0 818.1 331.3 815.5 C331.7 813.0 333.2 769.1 333.8 774.2 C334.3 779.3 336.4 857.6 336.9 866.9 C337.4 876.1 338.4 877.7 338.9 866.9 C339.4 856.0 341.5 760.9 342.3 758.5 C343.1 756.1 346.2 839.8 347.0 842.6 C347.8 845.5 349.6 797.4 350.2 787.0 C350.8 776.6 352.4 742.4 353.0 738.6 C353.6 734.7 355.5 747.0 355.9 748.5 C356.2 750.1 356.6 754.2 356.9 754.2 C357.1 754.3 357.5 745.5 358.0 749.2 C358.5 753.0 361.2 791.1 361.8 792.0 C362.5 792.9 363.7 762.4 364.1 758.5 C364.5 754.6 365.6 752.8 365.8 752.8 C366.1 752.8 366.6 760.3 367.0 758.5 C367.4 756.7 369.3 735.9 369.8 735.0 C370.4 734.1 372.0 750.3 372.5 749.7 C373.1 749.1 374.9 731.4 375.4 729.1 C375.8 726.7 377.0 726.0 377.4 726.2 C377.7 726.4 378.0 736.9 378.5 731.2 C379.0 725.5 381.3 666.8 382.1 669.2 C382.8 671.5 384.9 750.8 385.6 754.7 C386.3 758.7 388.6 714.5 389.2 708.4 C389.8 702.3 391.0 693.6 391.6 693.9 C392.2 694.1 394.3 707.8 394.9 711.2 C395.4 714.7 396.5 722.5 397.0 728.4 C397.5 734.2 399.4 772.7 400.0 769.8 C400.7 767.0 402.9 707.4 403.4 699.8 C404.0 692.3 405.0 692.4 405.6 694.1 C406.2 695.8 408.6 718.7 409.1 716.9 C409.7 715.2 410.9 683.7 411.3 677.0 C411.7 670.3 413.0 650.4 413.4 649.9 C413.9 649.5 415.0 674.6 415.6 672.8 C416.1 670.9 418.0 627.6 418.7 631.1 C419.4 634.6 422.0 704.1 422.7 707.7 C423.4 711.3 425.0 673.0 425.5 667.0 C426.1 661.1 427.4 646.0 428.1 648.5 C428.8 651.0 431.6 691.1 432.4 692.0 C433.1 692.9 435.0 661.3 435.5 657.1 C436.1 652.8 437.7 649.9 438.1 649.2 C438.5 648.6 439.1 651.4 439.4 650.7 C439.7 649.9 440.5 639.5 440.9 641.4 C441.4 643.2 443.5 670.9 444.1 669.2 C444.7 667.5 446.6 629.4 446.9 624.3 C447.2 619.2 446.9 621.8 447.1 618.3 C447.2 614.8 448.2 592.4 448.5 589.1 C448.8 585.8 450.0 586.6 450.3 585.2 C450.7 583.9 451.3 577.2 451.6 575.5 C451.9 573.9 452.9 569.9 453.2 569.1 C453.5 568.3 454.7 567.3 455.1 567.7 C455.4 568.1 456.4 574.8 456.8 573.0 C457.1 571.2 458.1 554.4 458.5 549.9 C458.9 545.4 460.1 526.6 460.6 527.8 C461.1 529.0 463.0 562.9 463.5 562.0 C464.0 561.1 465.2 525.2 465.6 518.5 C466.0 511.8 467.1 497.0 467.5 495.0 C467.8 493.0 468.6 496.8 469.2 498.6 C469.7 500.3 471.9 513.3 472.7 512.1 C473.6 510.9 476.8 488.6 477.4 486.2 C477.9 483.8 478.0 494.3 478.5 488.3 C479.0 482.4 482.0 427.7 482.8 426.7 C483.5 425.8 485.3 478.8 485.9 479.0 C486.5 479.3 488.5 430.9 489.2 429.1 C489.9 427.4 492.4 461.7 493.0 461.9 C493.6 462.2 494.8 430.3 495.3 432.0 C495.8 433.7 497.1 481.8 497.7 479.0 C498.4 476.3 501.2 410.5 502.0 404.5 C502.9 398.4 505.5 419.5 506.3 418.5 C507.1 417.4 509.4 395.9 509.9 394.2 C510.4 392.5 510.8 406.3 511.3 401.3 C511.8 396.4 514.1 345.1 514.9 344.7 C515.6 344.3 518.4 394.5 519.1 397.4 C519.9 400.2 521.8 370.9 522.4 372.8 C523.0 374.8 524.9 422.8 525.5 416.7 C526.2 410.7 528.7 323.2 529.2 312.7 C529.7 302.1 530.3 310.7 530.6 311.3 C530.9 311.8 531.8 317.8 532.0 318.4 C532.3 319.0 532.8 315.6 533.0 317.0 C533.3 318.3 534.3 335.4 534.9 331.9 C535.5 328.4 538.4 283.3 539.2 282.0 C539.9 280.8 541.8 316.2 542.3 319.1 C542.8 322.0 543.7 315.0 544.2 311.3 C544.7 307.6 546.6 278.3 547.3 282.0 C548.0 285.7 550.4 352.0 551.3 348.3 C552.2 344.6 555.5 252.8 556.3 245.0 C557.1 237.1 558.7 267.3 559.1 269.9 C559.6 272.6 560.2 272.4 560.6 271.3 C560.9 270.3 561.8 257.5 562.3 259.2 C562.7 260.9 564.2 290.0 564.8 288.2 C565.5 286.4 567.8 250.4 568.5 241.3 C569.2 232.2 571.2 201.7 571.7 197.1 C572.1 192.5 573.1 196.3 573.5 195.7 C573.9 195.0 575.3 189.0 575.6 190.7 C576.0 192.4 576.6 205.5 577.1 212.8 C577.5 220.0 579.3 262.0 579.9 263.4 C580.5 264.8 582.2 233.4 582.8 227.0 C583.3 220.7 584.9 202.1 585.3 199.9 C585.7 197.8 586.5 205.3 586.8 205.6 C587.0 206.0 587.9 202.8 588.2 203.5 C588.5 204.2 589.4 208.1 589.9 212.8 C590.4 217.4 592.2 244.3 592.8 249.8 C593.3 255.4 594.7 270.0 595.3 268.1 C596.0 266.2 598.6 233.9 599.2 231.0 C599.7 228.1 600.4 238.4 600.6 239.1 C600.8 239.9 601.3 235.3 601.6 238.4 C601.9 241.6 602.9 270.6 603.4 270.5 C603.9 270.4 605.9 236.7 606.6 237.3 C607.2 237.9 609.4 274.5 609.9 276.9 C610.4 279.4 611.2 263.0 611.6 262.0 C611.9 261.0 613.0 261.7 613.4 266.9 C613.8 272.2 615.1 315.8 615.7 314.9 C616.3 313.9 618.8 263.1 619.2 257.1 C619.7 251.1 619.9 254.0 620.1 255.0 C620.3 255.9 621.2 269.1 621.7 266.4 C622.2 263.7 624.7 231.4 625.2 227.7 C625.8 224.1 626.6 224.5 627.1 230.0 C627.6 235.5 629.5 273.4 629.9 282.8 C630.4 292.2 631.3 319.6 631.7 324.1 C632.0 328.6 632.9 325.7 633.5 327.7 C634.1 329.6 636.6 347.6 637.4 343.8 C638.1 340.0 640.0 296.9 640.6 289.9 C641.2 282.9 642.7 270.2 643.5 274.2 C644.2 278.2 647.4 329.0 648.2 329.8 C649.0 330.7 651.0 288.7 651.6 282.8 C652.2 276.9 653.6 269.2 654.2 270.7 C654.7 272.1 656.4 291.2 657.0 297.0 C657.7 302.9 660.0 327.8 660.6 329.1 C661.2 330.4 662.8 306.1 663.4 310.1 C664.1 314.2 666.6 367.7 667.3 369.5 C668.0 371.2 670.2 328.0 670.9 327.7 C671.5 327.4 673.5 365.1 674.1 366.6 C674.8 368.1 677.1 344.5 677.7 342.9 C678.3 341.4 679.7 350.6 680.1 351.2 C680.5 351.8 681.2 348.4 681.6 349.1 C682.0 349.8 683.6 359.0 684.1 358.3 C684.7 357.7 686.5 343.2 687.0 342.7 C687.4 342.1 688.0 352.1 688.4 352.6 C688.8 353.2 690.2 351.1 690.5 348.4 C690.9 345.6 691.7 332.1 692.0 325.5 C692.2 319.0 693.1 291.3 693.4 282.8 C693.7 274.2 695.0 246.1 695.2 240.0 C695.5 233.9 696.0 225.9 696.2 222.0 C696.4 218.1 696.6 206.2 697.0 201.0 C697.4 195.8 699.5 174.3 700.0 170.5 C700.5 166.7 701.3 165.4 701.6 163.4 C701.9 161.4 702.9 152.9 703.1 150.2 C703.4 147.5 703.9 141.5 704.1 136.6 C704.4 131.7 705.3 106.7 705.6 100.9 C705.9 95.1 707.1 79.5 707.5 79.0 C707.9 78.5 708.9 92.1 709.2 95.8 C709.5 99.5 710.4 112.8 710.7 116.2 C711.0 119.6 712.0 127.9 712.3 129.4 C712.6 130.9 713.0 132.2 713.3 131.5 C713.6 130.8 714.9 122.8 715.3 122.8 C715.6 122.8 716.5 129.1 716.8 131.5 C717.1 133.9 718.3 144.6 718.6 146.7 C718.9 148.8 719.2 152.7 719.4 152.2 C719.6 151.7 720.4 144.7 720.9 141.6 C721.4 138.5 723.5 124.1 724.0 121.3 C724.5 118.5 725.6 113.1 726.0 113.1 C726.4 113.1 727.2 118.6 727.5 121.3 C727.8 124.0 728.9 140.1 729.3 140.1 C729.7 140.1 730.8 125.2 731.1 121.3 C731.4 117.4 732.3 103.8 732.6 100.9 C732.9 98.0 733.7 92.3 734.0 92.3 C734.3 92.3 735.0 97.5 735.2 100.9 C735.4 104.3 736.0 121.9 736.2 126.4 C736.4 130.9 737.0 141.6 737.2 146.0 C737.4 150.4 738.1 164.0 738.4 170.5 C738.7 177.0 740.0 204.4 740.3 211.3 C740.6 218.2 740.9 228.1 741.3 240.0 C741.7 251.9 744.1 318.0 744.5 330.0 C744.9 342.0 745.4 352.7 745.6 360.0 C745.9 367.3 746.6 392.8 747.0 402.8 C747.4 412.8 748.8 452.2 749.2 459.8 C749.6 467.4 750.9 475.4 751.3 478.3 C751.7 481.2 752.7 487.4 753.0 489.0 C753.3 490.6 754.0 491.3 754.2 494.3 C754.5 497.2 755.3 513.2 755.7 518.5 C756.0 523.8 757.0 541.3 757.4 547.0 C757.7 552.7 758.8 571.3 759.2 575.5 C759.7 579.8 761.6 587.4 762.1 589.8 C762.6 592.2 763.8 599.1 764.2 599.8 C764.6 600.4 766.0 595.1 766.4 596.2 C766.7 597.4 767.4 608.1 767.8 611.2 C768.1 614.3 769.5 625.5 769.9 626.9 C770.3 628.2 771.5 622.0 772.1 624.7 C772.6 627.5 774.7 652.5 775.4 654.2 C776.0 656.0 777.8 639.9 778.5 642.1 C779.3 644.3 782.0 674.3 782.8 676.3 C783.6 678.3 785.5 659.1 786.4 662.1 C787.2 665.0 790.4 703.3 791.3 705.5 C792.3 707.8 795.2 686.4 795.9 684.9 C796.6 683.3 798.0 687.9 798.5 689.9 C798.9 691.8 800.2 702.1 800.6 704.1 C801.1 706.1 802.6 709.3 803.0 709.8 C803.5 710.3 804.5 708.1 804.9 709.1 C805.3 710.1 806.5 718.5 807.0 719.8 C807.6 721.1 810.0 720.5 810.6 721.9 C811.2 723.4 812.2 730.8 812.7 734.1 C813.3 737.3 815.6 753.3 816.3 754.0 C817.0 754.7 819.2 741.5 819.9 741.2 C820.5 740.9 822.2 750.3 822.7 751.2 C823.2 752.0 824.2 747.4 824.9 749.7 C825.5 752.0 828.3 770.9 829.2 774.2 C830.1 777.4 833.0 783.0 833.9 782.4 C834.8 781.9 837.4 768.9 838.2 768.5 C839.0 768.1 840.9 779.0 841.6 778.5 C842.3 778.0 844.7 763.2 845.3 763.5 C846.0 763.8 847.3 777.8 847.8 781.3 C848.2 784.8 849.3 797.4 849.9 798.4 C850.5 799.4 852.9 792.1 853.5 791.3 C854.1 790.4 855.2 788.6 855.9 789.9 C856.5 791.1 859.2 802.1 859.9 804.1 C860.6 806.1 862.1 811.5 862.7 809.8 C863.4 808.1 865.7 790.1 866.3 787.0 C866.9 783.9 868.1 778.3 868.7 779.2 C869.3 780.0 871.7 795.0 872.4 795.3 C873.1 795.6 875.0 781.6 875.6 782.0 C876.1 782.5 877.6 796.3 878.1 799.8 C878.6 803.4 880.0 817.2 880.6 817.7 C881.2 818.1 883.4 806.8 884.1 804.1 C884.9 801.5 887.5 791.3 888.1 791.3 C888.8 791.3 890.0 801.1 890.5 804.1 C891.1 807.2 892.8 820.9 893.4 821.9 C894.0 823.0 895.7 814.9 896.2 814.8 C896.7 814.7 897.9 820.1 898.4 821.2 C898.8 822.4 900.1 825.8 900.5 826.2 C900.9 826.6 902.2 825.4 902.7 825.5 C903.1 825.6 904.4 827.1 904.8 826.9 C905.1 826.8 905.9 824.3 906.2 824.1 C906.6 823.9 907.9 826.6 908.4 824.8 C908.8 822.9 910.1 808.5 910.5 805.5 C910.9 802.5 911.8 794.3 912.2 794.9 C912.6 795.4 913.9 808.9 914.2 811.3 C914.6 813.7 915.8 818.3 916.1 819.1 C916.4 820.0 917.2 819.5 917.5 819.8 C917.9 820.2 919.3 822.7 919.7 822.7 C920.0 822.7 920.8 820.0 921.1 819.8 C921.4 819.7 922.2 820.6 922.5 821.3 C922.9 822.0 924.2 826.4 924.7 826.7 C925.1 827.0 926.4 824.5 926.8 824.1 C927.1 823.7 927.9 822.0 928.2 822.7 C928.6 823.4 929.9 830.0 930.4 831.2 C930.8 832.5 932.1 836.0 932.5 834.8 C932.9 833.7 934.3 821.4 934.6 819.8 C935.0 818.3 935.8 818.6 936.1 819.1 C936.3 819.7 937.1 824.3 937.5 825.5 C937.8 826.8 939.2 831.2 939.6 831.2 C940.1 831.2 941.4 826.0 941.8 825.5 C942.1 825.1 942.8 827.1 943.2 827.0 C943.5 826.8 944.9 826.0 945.3 824.1 C945.8 822.3 947.1 810.4 947.5 808.4 C947.9 806.4 949.0 804.0 949.3 804.2 C949.7 804.3 950.7 808.0 951.0 809.9 C951.4 811.7 952.4 821.1 952.7 822.7 C953.1 824.3 954.2 826.1 954.6 826.3 C955.0 826.4 956.2 824.3 956.7 824.1 C957.2 824.0 959.1 825.1 959.6 824.8 C960.1 824.5 961.3 821.8 961.7 821.3 C962.1 820.7 963.1 818.7 963.4 819.1 C963.8 819.6 964.9 823.5 965.3 825.5 C965.7 827.6 967.0 838.2 967.4 839.8 C967.8 841.4 968.9 842.5 969.3 841.9 C969.7 841.4 971.2 835.2 971.7 834.1 C972.2 833.0 973.4 832.7 973.8 831.2 C974.3 829.8 975.6 821.9 976.0 819.8 C976.4 817.8 977.7 809.9 978.1 811.0 C978.5 812.1 979.8 828.2 980.3 831.2 C980.7 834.3 982.0 841.8 982.4 841.9 C982.8 842.1 984.1 834.3 984.5 832.7 C985.0 831.0 986.2 826.5 986.7 825.5 C987.1 824.6 988.7 823.3 989.2 823.4 C989.7 823.5 991.2 826.0 991.7 827.0 C992.1 827.9 993.4 831.6 993.8 832.7 C994.2 833.7 995.5 837.2 995.9 837.7 C996.4 838.1 997.6 836.4 998.1 836.9 C998.5 837.4 999.8 841.2 1000.2 842.7 C1000.6 844.1 1001.9 852.1 1002.4 851.5 C1002.8 850.9 1004.1 839.8 1004.5 836.9 C1004.9 834.1 1006.2 824.6 1006.6 822.7 C1007.1 820.8 1008.7 817.8 1009.2 817.7 C1009.7 817.6 1011.2 819.8 1011.6 821.3 C1012.1 822.8 1013.3 830.8 1013.8 832.7 C1014.2 834.5 1015.5 839.2 1015.9 839.8 C1016.3 840.4 1017.6 839.8 1018.0 838.4 C1018.5 836.9 1019.7 827.7 1020.2 825.5 C1020.6 823.4 1021.9 817.6 1022.3 817.0 C1022.7 816.3 1024.0 818.7 1024.5 819.1 C1025.0 819.6 1026.7 821.4 1027.3 821.3 C1027.9 821.1 1029.6 818.3 1030.2 817.7 C1030.7 817.1 1032.5 814.6 1033.0 814.9 C1033.5 815.1 1034.6 818.8 1035.1 819.8 C1035.6 820.9 1037.7 825.0 1038.0 825.5" stroke="#000" stroke-width="2.7"/>
<path d="M124.8 830.0 L125.8 830.0 L126.8 830.0 L127.8 830.0 L128.8 830.0 L129.8 830.0 L130.8 830.0 L131.8 830.0 L132.8 830.0 L133.8 830.0 L134.8 830.0 L135.8 830.0 L136.8 830.0 L137.8 830.0 L138.8 830.0 L139.8 830.0 L140.8 830.0 L141.8 829.9 L142.8 829.9 L143.8 829.9 L144.8 829.9 L145.8 829.9 L146.8 829.9 L147.8 829.9 L148.8 829.9 L149.8 829.9 L150.8 829.9 L151.8 829.9 L152.8 829.9 L153.8 829.9 L154.8 829.9 L155.8 829.8 L156.8 829.8 L157.8 829.8 L158.8 829.8 L159.8 829.8 L160.8 829.8 L161.8 829.8 L162.8 829.8 L163.8 829.8 L164.8 829.7 L165.8 829.7 L166.8 829.7 L167.8 829.7 L168.8 829.7 L169.8 829.7 L170.8 829.7 L171.8 829.7 L172.8 829.6 L173.8 829.6 L174.8 829.6 L175.8 829.6 L176.8 829.6 L177.8 829.6 L178.8 829.5 L179.8 829.5 L180.8 829.5 L181.8 829.5 L182.8 829.5 L183.8 829.4 L184.8 829.4 L185.8 829.4 L186.8 829.4 L187.8 829.3 L188.8 829.3 L189.8 829.3 L190.8 829.3 L191.8 829.2 L192.8 829.2 L193.8 829.2 L194.8 829.1 L195.8 829.1 L196.8 829.1 L197.8 829.0 L198.8 829.0 L199.8 829.0 L200.8 828.9 L201.8 828.9 L202.8 828.9 L203.8 828.8 L204.8 828.8 L205.8 828.7 L206.8 828.7 L207.8 828.7 L208.8 828.6 L209.8 828.6 L210.8 828.5 L211.8 828.5 L212.8 828.4 L213.8 828.4 L214.8 828.3 L215.8 828.3 L216.8 828.2 L217.8 828.1 L218.8 828.1 L219.8 828.0 L220.8 828.0 L221.8 827.9 L222.8 827.8 L223.8 827.8 L224.8 827.7 L225.8 827.6 L226.8 827.5 L227.8 827.5 L228.8 827.4 L229.8 827.3 L230.8 827.2 L231.8 827.1 L232.8 827.1 L233.8 827.0 L234.8 826.9 L235.8 826.8 L236.8 826.7 L237.8 826.6 L238.8 826.5 L239.8 826.4 L240.8 826.3 L241.8 826.2 L242.8 826.1 L243.8 825.9 L244.8 825.8 L245.8 825.7 L246.8 825.6 L247.8 825.5 L248.8 825.3 L249.8 825.2 L250.8 825.1 L251.8 824.9 L252.8 824.8 L253.8 824.6 L254.8 824.5 L255.8 824.3 L256.8 824.2 L257.8 824.0 L258.8 823.9 L259.8 823.7 L260.8 823.5 L261.8 823.4 L262.8 823.2 L263.8 823.0 L264.8 822.8 L265.8 822.6 L266.8 822.4 L267.8 822.2 L268.8 822.0 L269.8 821.8 L270.8 821.6 L271.8 821.4 L272.8 821.1 L273.8 820.9 L274.8 820.7 L275.8 820.4 L276.8 820.2 L277.8 819.9 L278.8 819.7 L279.8 819.4 L280.8 819.2 L281.8 818.9 L282.8 818.6 L283.8 818.3 L284.8 818.0 L285.8 817.7 L286.8 817.4 L287.8 817.1 L288.8 816.8 L289.8 816.5 L290.8 816.2 L291.8 815.8 L292.8 815.5 L293.8 815.1 L294.8 814.8 L295.8 814.4 L296.8 814.1 L297.8 813.7 L298.8 813.3 L299.8 812.9 L300.8 812.5 L301.8 812.1 L302.8 811.7 L303.8 811.3 L304.8 810.8 L305.8 810.4 L306.8 809.9 L307.8 809.5 L308.8 809.0 L309.8 808.6 L310.8 808.1 L311.8 807.6 L312.8 807.1 L313.8 806.6 L314.8 806.1 L315.8 805.5 L316.8 805.0 L317.8 804.4 L318.8 803.9 L319.8 803.3 L320.8 802.7 L321.8 802.2 L322.8 801.6 L323.8 801.0 L324.8 800.3 L325.8 799.7 L326.8 799.1 L327.8 798.4 L328.8 797.8 L329.8 797.1 L330.8 796.4 L331.8 795.7 L332.8 795.0 L333.8 794.3 L334.8 793.6 L335.8 792.8 L336.8 792.1 L337.8 791.3 L338.8 790.5 L339.8 789.8 L340.8 789.0 L341.8 788.1 L342.8 787.3 L343.8 786.5 L344.8 785.6 L345.8 784.8 L346.8 783.9 L347.8 783.0 L348.8 782.1 L349.8 781.2 L350.8 780.2 L351.8 779.3 L352.8 778.3 L353.8 777.4 L354.8 776.4 L355.8 775.4 L356.8 774.4 L357.8 773.4 L358.8 772.3 L359.8 771.3 L360.8 770.2 L361.8 769.1 L362.8 768.0 L363.8 766.9 L364.8 765.8 L365.8 764.6 L366.8 763.5 L367.8 762.3 L368.8 761.1 L369.8 759.9 L370.8 758.7 L371.8 757.5 L372.8 756.2 L373.8 755.0 L374.8 753.7 L375.8 752.4 L376.8 751.1 L377.8 749.8 L378.8 748.4 L379.8 747.1 L380.8 745.7 L381.8 744.3 L382.8 742.9 L383.8 741.5 L384.8 740.0 L385.8 738.6 L386.8 737.1 L387.8 735.6 L388.8 734.1 L389.8 732.6 L390.8 731.1 L391.8 729.5 L392.8 728.0 L393.8 726.4 L394.8 724.8 L395.8 723.2 L396.8 721.6 L397.8 719.9 L398.8 718.3 L399.8 716.6 L400.8 714.9 L401.8 713.2 L402.8 711.5 L403.8 709.7 L404.8 708.0 L405.8 706.2 L406.8 704.4 L407.8 702.6 L408.8 700.8 L409.8 699.0 L410.8 697.1 L411.8 695.3 L412.8 693.4 L413.8 691.5 L414.8 689.6 L415.8 687.7 L416.8 685.7 L417.8 683.8 L418.8 681.8 L419.8 679.8 L420.8 677.8 L421.8 675.8 L422.8 673.8 L423.8 671.7 L424.8 669.7 L425.8 667.6 L426.8 665.5 L427.8 663.4 L428.8 661.3 L429.8 659.2 L430.8 657.1 L431.8 654.9 L432.8 652.8 L433.8 650.6 L434.8 648.4 L435.8 646.2 L436.8 644.0 L437.8 641.8 L438.8 639.5 L439.8 637.3 L440.8 635.0 L441.8 632.8 L442.8 630.5 L443.8 628.2 L444.8 625.9 L445.8 623.6 L446.8 621.3 L447.8 618.9 L448.8 616.6 L449.8 614.3 L450.8 611.9 L451.8 609.5 L452.8 607.2 L453.8 604.8 L454.8 602.4 L455.8 600.0 L456.8 597.6 L457.8 595.2 L458.8 592.7 L459.8 590.3 L460.8 587.9 L461.8 585.5 L462.8 583.0 L463.8 580.6 L464.8 578.1 L465.8 575.6 L466.8 573.2 L467.8 570.7 L468.8 568.2 L469.8 565.8 L470.8 563.3 L471.8 560.8 L472.8 558.3 L473.8 555.9 L474.8 553.4 L475.8 550.9 L476.8 548.4 L477.8 545.9 L478.8 543.4 L479.8 540.9 L480.8 538.5 L481.8 536.0 L482.8 533.5 L483.8 531.0 L484.8 528.5 L485.8 526.0 L486.8 523.6 L487.8 521.1 L488.8 518.6 L489.8 516.2 L490.8 513.7 L491.8 511.3 L492.8 508.8 L493.8 506.4 L494.8 503.9 L495.8 501.5 L496.8 499.1 L497.8 496.6 L498.8 494.2 L499.8 491.8 L500.8 489.4 L501.8 487.1 L502.8 484.7 L503.8 482.3 L504.8 480.0 L505.8 477.6 L506.8 475.3 L507.8 473.0 L508.8 470.7 L509.8 468.4 L510.8 466.1 L511.8 463.8 L512.8 461.5 L513.8 459.3 L514.8 457.1 L515.8 454.8 L516.8 452.6 L517.8 450.5 L518.8 448.3 L519.8 446.1 L520.8 444.0 L521.8 441.9 L522.8 439.8 L523.8 437.7 L524.8 435.6 L525.8 433.6 L526.8 431.5 L527.8 429.5 L528.8 427.5 L529.8 425.5 L530.8 423.6 L531.8 421.7 L532.8 419.8 L533.8 417.9 L534.8 416.0 L535.8 414.2 L536.8 412.3 L537.8 410.5 L538.8 408.8 L539.8 407.0 L540.8 405.3 L541.8 403.6 L542.8 401.9 L543.8 400.2 L544.8 398.6 L545.8 397.0 L546.8 395.4 L547.8 393.9 L548.8 392.3 L549.8 390.8 L550.8 389.4 L551.8 387.9 L552.8 386.5 L553.8 385.1 L554.8 383.8 L555.8 382.4 L556.8 381.1 L557.8 379.9 L558.8 378.6 L559.8 377.4 L560.8 376.2 L561.8 375.1 L562.8 373.9 L563.8 372.8 L564.8 371.8 L565.8 370.7 L566.8 369.7 L567.8 368.8 L568.8 367.8 L569.8 366.9 L570.8 366.0 L571.8 365.2 L572.8 364.4 L573.8 363.6 L574.8 362.8 L575.8 362.1 L576.8 361.4 L577.8 360.8 L578.8 360.2 L579.8 359.6 L580.8 359.0 L581.8 358.5 L582.8 358.0 L583.8 357.6 L584.8 357.1 L585.8 356.8 L586.8 356.4 L587.8 356.1 L588.8 355.8 L589.8 355.6 L590.8 355.3 L591.8 355.2 L592.8 355.0 L593.8 354.9 L594.8 354.8 L595.8 354.8 L596.8 354.7 L597.8 354.8 L598.8 354.8 L599.8 354.9 L600.8 355.0 L601.8 355.2 L602.8 355.4 L603.8 355.6 L604.8 355.8 L605.8 356.1 L606.8 356.4 L607.8 356.8 L608.8 357.2 L609.8 357.6 L610.8 358.0 L611.8 358.5 L612.8 359.0 L613.8 359.6 L614.8 360.2 L615.8 360.8 L616.8 361.4 L617.8 362.1 L618.8 362.8 L619.8 363.6 L620.8 364.3 L621.8 365.2 L622.8 366.0 L623.8 366.9 L624.8 367.8 L625.8 368.7 L626.8 369.6 L627.8 370.6 L628.8 371.6 L629.8 372.7 L630.8 373.8 L631.8 374.9 L632.8 376.0 L633.8 377.2 L634.8 378.4 L635.8 379.6 L636.8 380.8 L637.8 382.1 L638.8 383.4 L639.8 384.7 L640.8 386.1 L641.8 387.5 L642.8 388.9 L643.8 390.3 L644.8 391.8 L645.8 393.3 L646.8 394.8 L647.8 396.3 L648.8 397.9 L649.8 399.5 L650.8 401.1 L651.8 402.7 L652.8 404.3 L653.8 406.0 L654.8 407.7 L655.8 409.4 L656.8 411.2 L657.8 412.9 L658.8 414.7 L659.8 416.5 L660.8 418.4 L661.8 420.2 L662.8 422.1 L663.8 424.0 L664.8 425.9 L665.8 427.8 L666.8 429.7 L667.8 431.7 L668.8 433.6 L669.8 435.6 L670.8 437.6 L671.8 439.7 L672.8 441.7 L673.8 443.8 L674.8 445.8 L675.8 447.9 L676.8 450.0 L677.8 452.1 L678.8 454.3 L679.8 456.4 L680.8 458.6 L681.8 460.7 L682.8 462.9 L683.8 465.1 L684.8 467.3 L685.8 469.5 L686.8 471.7 L687.8 474.0 L688.8 476.2 L689.8 478.5 L690.8 480.7 L691.8 483.0 L692.8 485.3 L693.8 487.5 L694.8 489.8 L695.8 492.1 L696.8 494.4 L697.8 496.8 L698.8 499.1 L699.8 501.4 L700.8 503.7 L701.8 506.1 L702.8 508.4 L703.8 510.8 L704.8 513.1 L705.8 515.5 L706.8 517.8 L707.8 520.2 L708.8 522.5 L709.8 524.9 L710.8 527.3 L711.8 529.6 L712.8 532.0 L713.8 534.4 L714.8 536.7 L715.8 539.1 L716.8 541.5 L717.8 543.8 L718.8 546.2 L719.8 548.6 L720.8 550.9 L721.8 553.3 L722.8 555.7 L723.8 558.0 L724.8 560.4 L725.8 562.7 L726.8 565.1 L727.8 567.4 L728.8 569.8 L729.8 572.1 L730.8 574.5 L731.8 576.8 L732.8 579.1 L733.8 581.4 L734.8 583.7 L735.8 586.1 L736.8 588.4 L737.8 590.7 L738.8 592.9 L739.8 595.2 L740.8 597.5 L741.8 599.8 L742.8 602.0 L743.8 604.3 L744.8 606.5 L745.8 608.8 L746.8 611.0 L747.8 613.2 L748.8 615.4 L749.8 617.7 L750.8 619.8 L751.8 622.0 L752.8 624.2 L753.8 626.4 L754.8 628.5 L755.8 630.7 L756.8 632.8 L757.8 634.9 L758.8 637.1 L759.8 639.2 L760.8 641.3 L761.8 643.3 L762.8 645.4 L763.8 647.5 L764.8 649.5 L765.8 651.6 L766.8 653.6 L767.8 655.6 L768.8 657.6 L769.8 659.6 L770.8 661.6 L771.8 663.5 L772.8 665.5 L773.8 667.4 L774.8 669.4 L775.8 671.3 L776.8 673.2 L777.8 675.1 L778.8 676.9 L779.8 678.8 L780.8 680.6 L781.8 682.5 L782.8 684.3 L783.8 686.1 L784.8 687.9 L785.8 689.7 L786.8 691.5 L787.8 693.2 L788.8 695.0 L789.8 696.7 L790.8 698.4 L791.8 700.1 L792.8 701.8 L793.8 703.4 L794.8 705.1 L795.8 706.8 L796.8 708.4 L797.8 710.0 L798.8 711.6 L799.8 713.2 L800.8 714.8 L801.8 716.3 L802.8 717.9 L803.8 719.4 L804.8 720.9 L805.8 722.4 L806.8 723.9 L807.8 725.4 L808.8 726.8 L809.8 728.3 L810.8 729.7 L811.8 731.1 L812.8 732.5 L813.8 733.9 L814.8 735.3 L815.8 736.7 L816.8 738.0 L817.8 739.3 L818.8 740.7 L819.8 742.0 L820.8 743.3 L821.8 744.5 L822.8 745.8 L823.8 747.1 L824.8 748.3 L825.8 749.5 L826.8 750.7 L827.8 751.9 L828.8 753.1 L829.8 754.3 L830.8 755.5 L831.8 756.6 L832.8 757.7 L833.8 758.8 L834.8 760.0 L835.8 761.0 L836.8 762.1 L837.8 763.2 L838.8 764.2 L839.8 765.3 L840.8 766.3 L841.8 767.3 L842.8 768.3 L843.8 769.3 L844.8 770.3 L845.8 771.3 L846.8 772.2 L847.8 773.2 L848.8 774.1 L849.8 775.0 L850.8 775.9 L851.8 776.8 L852.8 777.7 L853.8 778.6 L854.8 779.4 L855.8 780.3 L856.8 781.1 L857.8 781.9 L858.8 782.8 L859.8 783.6 L860.8 784.4 L861.8 785.1 L862.8 785.9 L863.8 786.7 L864.8 787.4 L865.8 788.2 L866.8 788.9 L867.8 789.6 L868.8 790.3 L869.8 791.0 L870.8 791.7 L871.8 792.4 L872.8 793.1 L873.8 793.7 L874.8 794.4 L875.8 795.0 L876.8 795.6 L877.8 796.3 L878.8 796.9 L879.8 797.5 L880.8 798.1 L881.8 798.7 L882.8 799.2 L883.8 799.8 L884.8 800.4 L885.8 800.9 L886.8 801.5 L887.8 802.0 L888.8 802.5 L889.8 803.0 L890.8 803.5 L891.8 804.0 L892.8 804.5 L893.8 805.0 L894.8 805.5 L895.8 806.0 L896.8 806.4 L897.8 806.9 L898.8 807.3 L899.8 807.8 L900.8 808.2 L901.8 808.6 L902.8 809.0 L903.8 809.4 L904.8 809.9 L905.8 810.3 L906.8 810.6 L907.8 811.0 L908.8 811.4 L909.8 811.8 L910.8 812.1 L911.8 812.5 L912.8 812.9 L913.8 813.2 L914.8 813.5 L915.8 813.9 L916.8 814.2 L917.8 814.5 L918.8 814.8 L919.8 815.2 L920.8 815.5 L921.8 815.8 L922.8 816.1 L923.8 816.3 L924.8 816.6 L925.8 816.9 L926.8 817.2 L927.8 817.5 L928.8 817.7 L929.8 818.0 L930.8 818.2 L931.8 818.5 L932.8 818.7 L933.8 819.0 L934.8 819.2 L935.8 819.4 L936.8 819.7 L937.8 819.9 L938.8 820.1 L939.8 820.3 L940.8 820.5 L941.8 820.7 L942.8 820.9 L943.8 821.1 L944.8 821.3 L945.8 821.5 L946.8 821.7 L947.8 821.9 L948.8 822.1 L949.8 822.3 L950.8 822.4 L951.8 822.6 L952.8 822.8 L953.8 822.9 L954.8 823.1 L955.8 823.3 L956.8 823.4 L957.8 823.6 L958.8 823.7 L959.8 823.8 L960.8 824.0 L961.8 824.1 L962.8 824.3 L963.8 824.4 L964.8 824.5 L965.8 824.7 L966.8 824.8 L967.8 824.9 L968.8 825.0 L969.8 825.1 L970.8 825.3 L971.8 825.4 L972.8 825.5 L973.8 825.6 L974.8 825.7 L975.8 825.8 L976.8 825.9 L977.8 826.0 L978.8 826.1 L979.8 826.2 L980.8 826.3 L981.8 826.4 L982.8 826.5 L983.8 826.5 L984.8 826.6 L985.8 826.7 L986.8 826.8 L987.8 826.9 L988.8 827.0 L989.8 827.0 L990.8 827.1 L991.8 827.2 L992.8 827.3 L993.8 827.3 L994.8 827.4 L995.8 827.5 L996.8 827.5 L997.8 827.6 L998.8 827.6 L999.8 827.7 L1000.8 827.8 L1001.8 827.8 L1002.8 827.9 L1003.8 827.9 L1004.8 828.0 L1005.8 828.0 L1006.8 828.1 L1007.8 828.1 L1008.8 828.2 L1009.8 828.2 L1010.8 828.3 L1011.8 828.3 L1012.8 828.4 L1013.8 828.4 L1014.8 828.5 L1015.8 828.5 L1016.8 828.5 L1017.8 828.6 L1018.8 828.6 L1019.8 828.7 L1020.8 828.7 L1021.8 828.7 L1022.8 828.8 L1023.8 828.8 L1024.8 828.8 L1025.8 828.9 L1026.8 828.9 L1027.8 828.9 L1028.8 829.0 L1029.8 829.0 L1030.8 829.0 L1031.8 829.1 L1032.8 829.1 L1033.8 829.1 L1034.8 829.1 L1035.8 829.2 L1036.8 829.2" stroke="#3c46c6" stroke-width="2.7"/>
<path d="M124.8 829.7 L125.8 829.7 L126.8 829.7 L127.8 829.7 L128.8 829.7 L129.8 829.7 L130.8 829.7 L131.8 829.7 L132.8 829.7 L133.8 829.7 L134.8 829.7 L135.8 829.7 L136.8 829.7 L137.8 829.7 L138.8 829.7 L139.8 829.6 L140.8 829.6 L141.8 829.6 L142.8 829.6 L143.8 829.6 L144.8 829.6 L145.8 829.6 L146.8 829.6 L147.8 829.6 L148.8 829.6 L149.8 829.6 L150.8 829.5 L151.8 829.5 L152.8 829.5 L153.8 829.5 L154.8 829.5 L155.8 829.5 L156.8 829.5 L157.8 829.5 L158.8 829.4 L159.8 829.4 L160.8 829.4 L161.8 829.4 L162.8 829.4 L163.8 829.4 L164.8 829.4 L165.8 829.3 L166.8 829.3 L167.8 829.3 L168.8 829.3 L169.8 829.3 L170.8 829.3 L171.8 829.2 L172.8 829.2 L173.8 829.2 L174.8 829.2 L175.8 829.2 L176.8 829.1 L177.8 829.1 L178.8 829.1 L179.8 829.1 L180.8 829.1 L181.8 829.1 L182.8 829.0 L183.8 829.0 L184.8 829.0 L185.8 829.0 L186.8 829.0 L187.8 828.9 L188.8 828.9 L189.8 828.9 L190.8 828.9 L191.8 828.8 L192.8 828.8 L193.8 828.8 L194.8 828.8 L195.8 828.8 L196.8 828.7 L197.8 828.7 L198.8 828.7 L199.8 828.7 L200.8 828.6 L201.8 828.6 L202.8 828.6 L203.8 828.6 L204.8 828.6 L205.8 828.5 L206.8 828.5 L207.8 828.5 L208.8 828.5 L209.8 828.4 L210.8 828.4 L211.8 828.4 L212.8 828.4 L213.8 828.3 L214.8 828.3 L215.8 828.3 L216.8 828.3 L217.8 828.2 L218.8 828.2 L219.8 828.2 L220.8 828.2 L221.8 828.1 L222.8 828.1 L223.8 828.1 L224.8 828.1 L225.8 828.1 L226.8 828.0 L227.8 828.0 L228.8 828.0 L229.8 827.9 L230.8 827.9 L231.8 827.9 L232.8 827.9 L233.8 827.8 L234.8 827.8 L235.8 827.8 L236.8 827.7 L237.8 827.7 L238.8 827.7 L239.8 827.6 L240.8 827.6 L241.8 827.6 L242.8 827.5 L243.8 827.5 L244.8 827.4 L245.8 827.4 L246.8 827.4 L247.8 827.3 L248.8 827.3 L249.8 827.3 L250.8 827.2 L251.8 827.2 L252.8 827.1 L253.8 827.1 L254.8 827.0 L255.8 827.0 L256.8 827.0 L257.8 826.9 L258.8 826.9 L259.8 826.8 L260.8 826.8 L261.8 826.7 L262.8 826.7 L263.8 826.6 L264.8 826.6 L265.8 826.5 L266.8 826.5 L267.8 826.4 L268.8 826.4 L269.8 826.4 L270.8 826.3 L271.8 826.3 L272.8 826.2 L273.8 826.1 L274.8 826.1 L275.8 826.0 L276.8 826.0 L277.8 825.9 L278.8 825.9 L279.8 825.8 L280.8 825.8 L281.8 825.7 L282.8 825.7 L283.8 825.6 L284.8 825.6 L285.8 825.5 L286.8 825.5 L287.8 825.4 L288.8 825.3 L289.8 825.3 L290.8 825.2 L291.8 825.2 L292.8 825.1 L293.8 825.0 L294.8 824.9 L295.8 824.9 L296.8 824.8 L297.8 824.7 L298.8 824.7 L299.8 824.6 L300.8 824.5 L301.8 824.4 L302.8 824.4 L303.8 824.3 L304.8 824.2 L305.8 824.1 L306.8 824.0 L307.8 824.0 L308.8 823.9 L309.8 823.8 L310.8 823.7 L311.8 823.6 L312.8 823.5 L313.8 823.5 L314.8 823.4 L315.8 823.3 L316.8 823.2 L317.8 823.1 L318.8 823.0 L319.8 822.9 L320.8 822.9 L321.8 822.8 L322.8 822.7 L323.8 822.6 L324.8 822.5 L325.8 822.4 L326.8 822.3 L327.8 822.2 L328.8 822.1 L329.8 822.0 L330.8 821.9 L331.8 821.8 L332.8 821.7 L333.8 821.6 L334.8 821.5 L335.8 821.4 L336.8 821.3 L337.8 821.2 L338.8 821.1 L339.8 821.0 L340.8 820.9 L341.8 820.7 L342.8 820.6 L343.8 820.5 L344.8 820.4 L345.8 820.3 L346.8 820.1 L347.8 820.0 L348.8 819.9 L349.8 819.8 L350.8 819.6 L351.8 819.5 L352.8 819.3 L353.8 819.2 L354.8 819.1 L355.8 818.9 L356.8 818.8 L357.8 818.6 L358.8 818.5 L359.8 818.3 L360.8 818.2 L361.8 818.0 L362.8 817.9 L363.8 817.7 L364.8 817.6 L365.8 817.4 L366.8 817.3 L367.8 817.1 L368.8 816.9 L369.8 816.8 L370.8 816.6 L371.8 816.5 L372.8 816.3 L373.8 816.1 L374.8 815.9 L375.8 815.8 L376.8 815.6 L377.8 815.4 L378.8 815.2 L379.8 815.0 L380.8 814.8 L381.8 814.7 L382.8 814.5 L383.8 814.3 L384.8 814.0 L385.8 813.8 L386.8 813.6 L387.8 813.4 L388.8 813.2 L389.8 813.0 L390.8 812.7 L391.8 812.5 L392.8 812.2 L393.8 812.0 L394.8 811.7 L395.8 811.5 L396.8 811.2 L397.8 811.0 L398.8 810.7 L399.8 810.4 L400.8 810.1 L401.8 809.8 L402.8 809.5 L403.8 809.2 L404.8 808.9 L405.8 808.6 L406.8 808.3 L407.8 808.0 L408.8 807.7 L409.8 807.4 L410.8 807.0 L411.8 806.7 L412.8 806.4 L413.8 806.0 L414.8 805.7 L415.8 805.4 L416.8 805.0 L417.8 804.7 L418.8 804.3 L419.8 803.9 L420.8 803.6 L421.8 803.2 L422.8 802.8 L423.8 802.4 L424.8 802.0 L425.8 801.6 L426.8 801.2 L427.8 800.8 L428.8 800.3 L429.8 799.9 L430.8 799.5 L431.8 799.0 L432.8 798.6 L433.8 798.1 L434.8 797.7 L435.8 797.2 L436.8 796.8 L437.8 796.4 L438.8 795.9 L439.8 795.5 L440.8 795.0 L441.8 794.6 L442.8 794.2 L443.8 793.7 L444.8 793.3 L445.8 792.8 L446.8 792.4 L447.8 791.9 L448.8 791.4 L449.8 791.0 L450.8 790.5 L451.8 790.0 L452.8 789.5 L453.8 789.1 L454.8 788.6 L455.8 788.1 L456.8 787.6 L457.8 787.1 L458.8 786.6 L459.8 786.1 L460.8 785.6 L461.8 785.1 L462.8 784.5 L463.8 784.0 L464.8 783.5 L465.8 783.0 L466.8 782.5 L467.8 781.9 L468.8 781.4 L469.8 780.8 L470.8 780.3 L471.8 779.7 L472.8 779.2 L473.8 778.6 L474.8 778.1 L475.8 777.5 L476.8 776.9 L477.8 776.4 L478.8 775.8 L479.8 775.3 L480.8 774.7 L481.8 774.2 L482.8 773.6 L483.8 773.1 L484.8 772.6 L485.8 772.0 L486.8 771.5 L487.8 770.9 L488.8 770.4 L489.8 769.8 L490.8 769.3 L491.8 768.7 L492.8 768.2 L493.8 767.6 L494.8 767.0 L495.8 766.4 L496.8 765.8 L497.8 765.2 L498.8 764.6 L499.8 764.0 L500.8 763.4 L501.8 762.8 L502.8 762.2 L503.8 761.6 L504.8 761.0 L505.8 760.4 L506.8 759.8 L507.8 759.2 L508.8 758.6 L509.8 758.1 L510.8 757.5 L511.8 757.0 L512.8 756.4 L513.8 755.9 L514.8 755.3 L515.8 754.8 L516.8 754.2 L517.8 753.7 L518.8 753.1 L519.8 752.6 L520.8 752.1 L521.8 751.5 L522.8 751.0 L523.8 750.5 L524.8 750.0 L525.8 749.4 L526.8 748.9 L527.8 748.4 L528.8 747.9 L529.8 747.3 L530.8 746.8 L531.8 746.3 L532.8 745.7 L533.8 745.2 L534.8 744.7 L535.8 744.1 L536.8 743.6 L537.8 743.0 L538.8 742.5 L539.8 741.9 L540.8 741.4 L541.8 740.8 L542.8 740.2 L543.8 739.7 L544.8 739.1 L545.8 738.6 L546.8 738.0 L547.8 737.5 L548.8 737.0 L549.8 736.5 L550.8 735.9 L551.8 735.4 L552.8 734.9 L553.8 734.4 L554.8 733.8 L555.8 733.3 L556.8 732.8 L557.8 732.3 L558.8 731.8 L559.8 731.4 L560.8 730.9 L561.8 730.4 L562.8 730.0 L563.8 729.6 L564.8 729.2 L565.8 728.8 L566.8 728.3 L567.8 727.9 L568.8 727.5 L569.8 727.2 L570.8 726.8 L571.8 726.4 L572.8 726.1 L573.8 725.8 L574.8 725.4 L575.8 725.2 L576.8 724.9 L577.8 724.7 L578.8 724.4 L579.8 724.2 L580.8 723.9 L581.8 723.7 L582.8 723.5 L583.8 723.3 L584.8 723.1 L585.8 723.0 L586.8 722.9 L587.8 722.7 L588.8 722.6 L589.8 722.6 L590.8 722.5 L591.8 722.4 L592.8 722.3 L593.8 722.2 L594.8 722.2 L595.8 722.1 L596.8 722.1 L597.8 722.0 L598.8 722.0 L599.8 722.0 L600.8 722.0 L601.8 722.0 L602.8 722.1 L603.8 722.1 L604.8 722.2 L605.8 722.3 L606.8 722.3 L607.8 722.4 L608.8 722.5 L609.8 722.6 L610.8 722.7 L611.8 722.8 L612.8 722.9 L613.8 723.1 L614.8 723.3 L615.8 723.6 L616.8 723.8 L617.8 724.1 L618.8 724.3 L619.8 724.6 L620.8 724.9 L621.8 725.2 L622.8 725.4 L623.8 725.7 L624.8 726.0 L625.8 726.3 L626.8 726.6 L627.8 727.0 L628.8 727.3 L629.8 727.7 L630.8 728.0 L631.8 728.4 L632.8 728.8 L633.8 729.2 L634.8 729.6 L635.8 730.0 L636.8 730.5 L637.8 731.0 L638.8 731.5 L639.8 732.0 L640.8 732.5 L641.8 733.0 L642.8 733.6 L643.8 734.1 L644.8 734.7 L645.8 735.2 L646.8 735.8 L647.8 736.4 L648.8 737.0 L649.8 737.6 L650.8 738.2 L651.8 738.9 L652.8 739.5 L653.8 740.2 L654.8 740.8 L655.8 741.5 L656.8 742.2 L657.8 742.9 L658.8 743.6 L659.8 744.3 L660.8 745.0 L661.8 745.7 L662.8 746.5 L663.8 747.3 L664.8 748.1 L665.8 748.9 L666.8 749.7 L667.8 750.6 L668.8 751.5 L669.8 752.4 L670.8 753.4 L671.8 754.4 L672.8 755.4 L673.8 756.5 L674.8 757.7 L675.8 759.1 L676.8 760.6 L677.8 762.1 L678.8 763.7 L679.8 765.3 L680.8 766.9 L681.8 768.5 L682.8 770.1 L683.8 771.8 L684.8 773.4 L685.8 775.1 L686.8 776.7 L687.8 778.2 L688.8 779.7 L689.8 781.1 L690.8 782.4 L691.8 783.7 L692.8 784.9 L693.8 786.2 L694.8 787.4 L695.8 788.7 L696.8 789.9 L697.8 791.0 L698.8 792.1 L699.8 793.3 L700.8 794.5 L701.8 795.7 L702.8 797.1 L703.8 798.6 L704.8 800.2 L705.8 801.9 L706.8 803.6 L707.8 805.2 L708.8 806.8 L709.8 808.4 L710.8 810.0 L711.8 811.6 L712.8 813.0 L713.8 814.4 L714.8 815.6 L715.8 816.7 L716.8 817.8 L717.8 818.8 L718.8 819.6 L719.8 820.4 L720.8 821.0 L721.8 821.6 L722.8 822.1 L723.8 822.6 L724.8 823.1 L725.8 823.5 L726.8 823.8 L727.8 824.1 L728.8 824.4 L729.8 824.6 L730.8 824.9 L731.8 825.1 L732.8 825.3 L733.8 825.4 L734.8 825.6 L735.8 825.8 L736.8 825.9 L737.8 826.0 L738.8 826.2 L739.8 826.3 L740.8 826.4 L741.8 826.5 L742.8 826.6 L743.8 826.7 L744.8 826.8 L745.8 826.9 L746.8 827.0 L747.8 827.1 L748.8 827.2 L749.8 827.2 L750.8 827.3 L751.8 827.4 L752.8 827.4 L753.8 827.5 L754.8 827.6 L755.8 827.6 L756.8 827.7 L757.8 827.7 L758.8 827.8 L759.8 827.8 L760.8 827.9 L761.8 827.9 L762.8 828.0 L763.8 828.0 L764.8 828.1 L765.8 828.1 L766.8 828.2 L767.8 828.2 L768.8 828.2 L769.8 828.3 L770.8 828.3 L771.8 828.3 L772.8 828.4 L773.8 828.4 L774.8 828.4 L775.8 828.5 L776.8 828.5 L777.8 828.5 L778.8 828.6 L779.8 828.6 L780.8 828.6 L781.8 828.7 L782.8 828.7 L783.8 828.7 L784.8 828.7 L785.8 828.8 L786.8 828.8 L787.8 828.8 L788.8 828.8 L789.8 828.9 L790.8 828.9 L791.8 828.9 L792.8 828.9 L793.8 829.0 L794.8 829.0 L795.8 829.0 L796.8 829.0 L797.8 829.0 L798.8 829.1 L799.8 829.1 L800.8 829.1 L801.8 829.1 L802.8 829.1 L803.8 829.2 L804.8 829.2 L805.8 829.2 L806.8 829.2 L807.8 829.2 L808.8 829.2 L809.8 829.2 L810.8 829.2 L811.8 829.2 L812.8 829.2 L813.8 829.3 L814.8 829.3 L815.8 829.3 L816.8 829.3 L817.8 829.3 L818.8 829.3 L819.8 829.3 L820.8 829.3 L821.8 829.3 L822.8 829.3 L823.8 829.3 L824.8 829.3 L825.8 829.4 L826.8 829.4 L827.8 829.4 L828.8 829.4 L829.8 829.4 L830.8 829.4 L831.8 829.4 L832.8 829.4 L833.8 829.4 L834.8 829.4 L835.8 829.4 L836.8 829.4 L837.8 829.4 L838.8 829.4 L839.8 829.5 L840.8 829.5 L841.8 829.5 L842.8 829.5 L843.8 829.5 L844.8 829.5 L845.8 829.5 L846.8 829.5 L847.8 829.5 L848.8 829.5 L849.8 829.5 L850.8 829.5 L851.8 829.5 L852.8 829.5 L853.8 829.5 L854.8 829.5 L855.8 829.5 L856.8 829.5 L857.8 829.6 L858.8 829.6 L859.8 829.6 L860.8 829.6 L861.8 829.6 L862.8 829.6 L863.8 829.6 L864.8 829.6 L865.8 829.6 L866.8 829.6 L867.8 829.6 L868.8 829.6 L869.8 829.6 L870.8 829.6 L871.8 829.6 L872.8 829.6 L873.8 829.6 L874.8 829.6 L875.8 829.6 L876.8 829.6 L877.8 829.6 L878.8 829.6 L879.8 829.6 L880.8 829.6 L881.8 829.6 L882.8 829.7 L883.8 829.7 L884.8 829.7 L885.8 829.7 L886.8 829.7 L887.8 829.7 L888.8 829.7 L889.8 829.7 L890.8 829.7 L891.8 829.7 L892.8 829.7 L893.8 829.7 L894.8 829.7 L895.8 829.7 L896.8 829.7 L897.8 829.7 L898.8 829.7 L899.8 829.7 L900.8 829.7 L901.8 829.7 L902.8 829.7 L903.8 829.7 L904.8 829.7 L905.8 829.7 L906.8 829.7 L907.8 829.7 L908.8 829.7 L909.8 829.7 L910.8 829.7 L911.8 829.7 L912.8 829.7 L913.8 829.7 L914.8 829.7 L915.8 829.7 L916.8 829.7 L917.8 829.7 L918.8 829.7 L919.8 829.7 L920.8 829.7 L921.8 829.8 L922.8 829.8 L923.8 829.8 L924.8 829.8 L925.8 829.8 L926.8 829.8 L927.8 829.8 L928.8 829.8 L929.8 829.8 L930.8 829.8 L931.8 829.8 L932.8 829.8 L933.8 829.8 L934.8 829.8 L935.8 829.8 L936.8 829.8 L937.8 829.8 L938.8 829.8 L939.8 829.8 L940.8 829.8 L941.8 829.8 L942.8 829.8 L943.8 829.8 L944.8 829.8 L945.8 829.8 L946.8 829.8 L947.8 829.8 L948.8 829.8 L949.8 829.8 L950.8 829.8 L951.8 829.8 L952.8 829.8 L953.8 829.8 L954.8 829.8 L955.8 829.8 L956.8 829.8 L957.8 829.8 L958.8 829.8 L959.8 829.8 L960.8 829.8 L961.8 829.8 L962.8 829.8 L963.8 829.8 L964.8 829.8 L965.8 829.8 L966.8 829.8 L967.8 829.8 L968.8 829.8 L969.8 829.8 L970.8 829.8 L971.8 829.8 L972.8 829.8 L973.8 829.8 L974.8 829.8 L975.8 829.9 L976.8 829.9 L977.8 829.9 L978.8 829.9 L979.8 829.9 L980.8 829.9 L981.8 829.9 L982.8 829.9 L983.8 829.9 L984.8 829.9 L985.8 829.9 L986.8 829.9 L987.8 829.9 L988.8 829.9 L989.8 829.9 L990.8 829.9 L991.8 829.9 L992.8 829.9 L993.8 829.9 L994.8 829.9 L995.8 829.9 L996.8 829.9 L997.8 829.9 L998.8 829.9 L999.8 829.9 L1000.8 829.9 L1001.8 829.9 L1002.8 829.9 L1003.8 829.9 L1004.8 829.9 L1005.8 829.9 L1006.8 829.9 L1007.8 829.9 L1008.8 829.9 L1009.8 829.9 L1010.8 829.9 L1011.8 829.9 L1012.8 829.9 L1013.8 829.9 L1014.8 829.9 L1015.8 829.9 L1016.8 829.9 L1017.8 829.9 L1018.8 829.9 L1019.8 829.9 L1020.8 829.9 L1021.8 829.9 L1022.8 829.9 L1023.8 829.9 L1024.8 829.9 L1025.8 829.9 L1026.8 829.9 L1027.8 829.9 L1028.8 829.9 L1029.8 829.9 L1030.8 829.9 L1031.8 829.9 L1032.8 829.9 L1033.8 829.9 L1034.8 829.9 L1035.8 829.9 L1036.8 829.9" stroke="#6fa537" stroke-width="2.7"/>
</g>
<g font-family="'Liberation Sans', sans-serif" font-weight="bold" font-size="39.5" fill="#262626" stroke="#fff" stroke-width="0.25" paint-order="fill stroke" letter-spacing="-1.35">
<text transform="translate(220.60 916.70) scale(1.05 1)" text-anchor="middle">8</text>
<text transform="translate(475.60 916.70) scale(1.05 1)" text-anchor="middle">8.5</text>
<text transform="translate(730.60 916.70) scale(1.05 1)" text-anchor="middle">9</text>
<text transform="translate(985.60 916.70) scale(1.05 1)" text-anchor="middle">9.5</text>
<text transform="translate(112.80 844.70) scale(1.05 1)" text-anchor="end">0</text>
<text transform="translate(112.80 694.52) scale(1.05 1)" text-anchor="end">0.2</text>
<text transform="translate(112.80 544.34) scale(1.05 1)" text-anchor="end">0.4</text>
<text transform="translate(112.80 394.16) scale(1.05 1)" text-anchor="end">0.6</text>
<text transform="translate(112.80 243.98) scale(1.05 1)" text-anchor="end">0.8</text>
<path d="M107 67.10 V93.60 H101.4 V76.70 H94.9 V72.40 Q100.6 72.10 102.9 67.10 Z" stroke="none"/>
</g>
<g font-family="'Liberation Sans', sans-serif" font-weight="bold" font-size="40.5" fill="#000">
<text x="375.30" y="970.80" textLength="408.00" lengthAdjust="spacingAndGlyphs">Photon energy (keV)</text>
<text transform="translate(34.30 605.00) rotate(-90)" textLength="283.00" lengthAdjust="spacingAndGlyphs">Intensity (a.u.)</text>
</g>
</g>
</svg>
</body></html>
